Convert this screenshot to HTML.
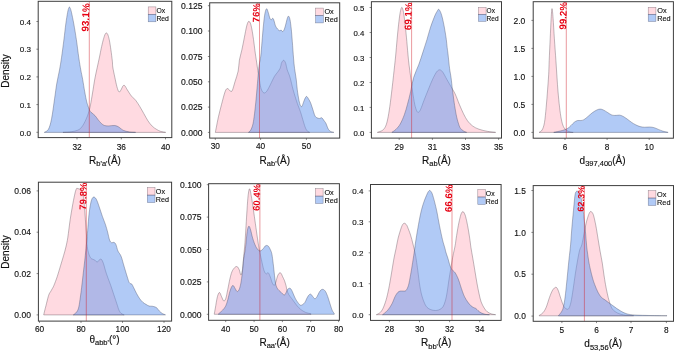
<!DOCTYPE html>
<html><head><meta charset="utf-8"><title>Density</title>
<style>html,body{margin:0;padding:0;background:#fff;}body{width:675px;height:352px;overflow:hidden;font-family:"Liberation Sans",sans-serif;}svg{display:block;will-change:transform;}</style></head>
<body>
<svg width="675" height="352" viewBox="0 0 675 352" font-family="'Liberation Sans', sans-serif">
<rect width="675" height="352" fill="#fff"/>
<g id="panel1">
<clipPath id="c0"><rect x="38.2" y="1.3" width="133.60" height="136.30"/></clipPath>
<g clip-path="url(#c0)">
<path d="M62.97,132.35 C64.35,132.25 68.85,132.08 71.27,131.73 C73.69,131.38 75.76,131.04 77.49,130.28 C79.22,129.52 80.26,128.89 81.64,127.17 C83.03,125.44 84.58,122.50 85.79,119.90 C87.00,117.31 88.04,114.54 88.90,111.61 C89.77,108.67 90.29,105.90 90.98,102.27 C91.67,98.64 92.36,93.97 93.05,89.82 C93.75,85.67 94.09,82.66 95.13,77.37 C96.17,72.09 98.28,62.86 99.28,58.09 C100.28,53.32 100.53,51.60 101.15,48.76 C101.76,45.91 102.42,43.06 102.95,41.00 C103.48,38.93 103.91,37.57 104.30,36.39 C104.69,35.21 104.95,34.50 105.29,33.92 C105.64,33.34 106.03,32.90 106.39,32.90 C106.76,32.90 107.14,33.34 107.47,33.92 C107.81,34.50 108.07,35.21 108.41,36.39 C108.75,37.57 109.09,38.76 109.51,41.00 C109.92,43.23 110.42,46.42 110.90,49.79 C111.37,53.16 112.04,58.34 112.35,61.20 C112.66,64.07 112.35,64.30 112.76,67.00 C113.18,69.70 114.15,74.09 114.84,77.37 C115.53,80.66 116.22,84.29 116.91,86.71 C117.60,89.13 118.30,91.38 118.99,91.90 C119.68,92.41 120.44,90.76 121.06,89.82 C121.68,88.89 122.20,87.06 122.72,86.29 C123.24,85.53 123.69,85.15 124.17,85.26 C124.66,85.36 125.11,86.16 125.63,86.92 C126.15,87.68 126.32,88.30 127.29,89.82 C128.25,91.34 130.05,94.32 131.44,96.05 C132.82,97.77 134.20,98.47 135.59,100.20 C136.97,101.92 138.35,104.17 139.73,106.42 C141.12,108.67 142.50,111.26 143.88,113.68 C145.27,116.10 146.65,118.87 148.03,120.94 C149.42,123.02 150.80,124.75 152.18,126.13 C153.57,127.51 154.95,128.38 156.33,129.24 C157.72,130.11 158.93,130.80 160.48,131.32 C162.04,131.83 164.80,132.18 165.67,132.35 L165.67,132.40 L62.97,132.40 Z" fill="rgba(255,192,203,0.58)" stroke="none"/>
<path d="M62.97,132.35 C64.35,132.25 68.85,132.08 71.27,131.73 C73.69,131.38 75.76,131.04 77.49,130.28 C79.22,129.52 80.26,128.89 81.64,127.17 C83.03,125.44 84.58,122.50 85.79,119.90 C87.00,117.31 88.04,114.54 88.90,111.61 C89.77,108.67 90.29,105.90 90.98,102.27 C91.67,98.64 92.36,93.97 93.05,89.82 C93.75,85.67 94.09,82.66 95.13,77.37 C96.17,72.09 98.28,62.86 99.28,58.09 C100.28,53.32 100.53,51.60 101.15,48.76 C101.76,45.91 102.42,43.06 102.95,41.00 C103.48,38.93 103.91,37.57 104.30,36.39 C104.69,35.21 104.95,34.50 105.29,33.92 C105.64,33.34 106.03,32.90 106.39,32.90 C106.76,32.90 107.14,33.34 107.47,33.92 C107.81,34.50 108.07,35.21 108.41,36.39 C108.75,37.57 109.09,38.76 109.51,41.00 C109.92,43.23 110.42,46.42 110.90,49.79 C111.37,53.16 112.04,58.34 112.35,61.20 C112.66,64.07 112.35,64.30 112.76,67.00 C113.18,69.70 114.15,74.09 114.84,77.37 C115.53,80.66 116.22,84.29 116.91,86.71 C117.60,89.13 118.30,91.38 118.99,91.90 C119.68,92.41 120.44,90.76 121.06,89.82 C121.68,88.89 122.20,87.06 122.72,86.29 C123.24,85.53 123.69,85.15 124.17,85.26 C124.66,85.36 125.11,86.16 125.63,86.92 C126.15,87.68 126.32,88.30 127.29,89.82 C128.25,91.34 130.05,94.32 131.44,96.05 C132.82,97.77 134.20,98.47 135.59,100.20 C136.97,101.92 138.35,104.17 139.73,106.42 C141.12,108.67 142.50,111.26 143.88,113.68 C145.27,116.10 146.65,118.87 148.03,120.94 C149.42,123.02 150.80,124.75 152.18,126.13 C153.57,127.51 154.95,128.38 156.33,129.24 C157.72,130.11 158.93,130.80 160.48,131.32 C162.04,131.83 164.80,132.18 165.67,132.35 L165.67,132.40 L62.97,132.40 Z" fill="none" stroke="rgba(85,70,82,0.62)" stroke-width="0.6" stroke-linejoin="round"/>
<path d="M44.30,132.35 C44.99,131.83 47.24,131.49 48.45,129.24 C49.66,126.99 50.52,124.05 51.56,118.87 C52.60,113.68 53.81,104.00 54.67,98.12 C55.54,92.24 55.94,88.28 56.75,83.60 C57.55,78.91 58.71,74.32 59.50,70.00 C60.29,65.68 60.77,62.73 61.50,57.70 C62.23,52.67 63.18,45.43 63.90,39.80 C64.62,34.17 65.18,28.45 65.80,23.90 C66.42,19.35 67.13,15.08 67.60,12.50 C68.07,9.92 68.30,9.32 68.60,8.40 C68.90,7.48 69.12,7.00 69.40,7.00 C69.68,7.00 69.95,7.48 70.30,8.40 C70.65,9.32 70.92,9.92 71.50,12.50 C72.08,15.08 72.98,19.35 73.80,23.90 C74.62,28.45 75.57,34.17 76.40,39.80 C77.23,45.43 78.07,52.67 78.80,57.70 C79.53,62.73 80.15,66.38 80.80,70.00 C81.45,73.62 82.02,75.80 82.68,79.45 C83.34,83.10 84.06,88.09 84.76,91.90 C85.45,95.70 86.14,99.50 86.83,102.27 C87.52,105.04 88.32,106.94 88.90,108.49 C89.49,110.05 89.84,110.85 90.36,111.61 C90.88,112.37 91.22,112.37 92.02,113.06 C92.81,113.75 94.09,114.61 95.13,115.76 C96.17,116.90 97.20,118.63 98.24,119.90 C99.28,121.18 100.32,122.50 101.35,123.43 C102.39,124.37 103.25,125.09 104.46,125.51 C105.67,125.92 106.89,125.92 108.61,125.92 C110.34,125.92 113.11,125.30 114.84,125.51 C116.57,125.71 117.60,126.37 118.99,127.17 C120.37,127.96 121.41,129.48 123.14,130.28 C124.87,131.07 127.29,131.59 129.36,131.94 C131.44,132.28 134.55,132.28 135.59,132.35 L135.59,132.40 L44.30,132.40 Z" fill="rgba(100,149,237,0.50)" stroke="none"/>
<path d="M44.30,132.35 C44.99,131.83 47.24,131.49 48.45,129.24 C49.66,126.99 50.52,124.05 51.56,118.87 C52.60,113.68 53.81,104.00 54.67,98.12 C55.54,92.24 55.94,88.28 56.75,83.60 C57.55,78.91 58.71,74.32 59.50,70.00 C60.29,65.68 60.77,62.73 61.50,57.70 C62.23,52.67 63.18,45.43 63.90,39.80 C64.62,34.17 65.18,28.45 65.80,23.90 C66.42,19.35 67.13,15.08 67.60,12.50 C68.07,9.92 68.30,9.32 68.60,8.40 C68.90,7.48 69.12,7.00 69.40,7.00 C69.68,7.00 69.95,7.48 70.30,8.40 C70.65,9.32 70.92,9.92 71.50,12.50 C72.08,15.08 72.98,19.35 73.80,23.90 C74.62,28.45 75.57,34.17 76.40,39.80 C77.23,45.43 78.07,52.67 78.80,57.70 C79.53,62.73 80.15,66.38 80.80,70.00 C81.45,73.62 82.02,75.80 82.68,79.45 C83.34,83.10 84.06,88.09 84.76,91.90 C85.45,95.70 86.14,99.50 86.83,102.27 C87.52,105.04 88.32,106.94 88.90,108.49 C89.49,110.05 89.84,110.85 90.36,111.61 C90.88,112.37 91.22,112.37 92.02,113.06 C92.81,113.75 94.09,114.61 95.13,115.76 C96.17,116.90 97.20,118.63 98.24,119.90 C99.28,121.18 100.32,122.50 101.35,123.43 C102.39,124.37 103.25,125.09 104.46,125.51 C105.67,125.92 106.89,125.92 108.61,125.92 C110.34,125.92 113.11,125.30 114.84,125.51 C116.57,125.71 117.60,126.37 118.99,127.17 C120.37,127.96 121.41,129.48 123.14,130.28 C124.87,131.07 127.29,131.59 129.36,131.94 C131.44,132.28 134.55,132.28 135.59,132.35 L135.59,132.40 L44.30,132.40 Z" fill="none" stroke="rgba(65,70,95,0.62)" stroke-width="0.6" stroke-linejoin="round"/>
<line x1="89.3" y1="1.3" x2="89.3" y2="137.6" stroke="#d0202a" stroke-width="0.9" opacity="0.5"/>
</g>
<text transform="translate(89.60,3.40) rotate(-88)" text-anchor="end" font-size="10.0" font-weight="bold" fill="#e60012">93.1%</text>
<rect x="38.2" y="1.3" width="133.60" height="136.30" fill="none" stroke="#3d3d3d" stroke-width="1"/>
<line x1="36.40" y1="132.3" x2="38.2" y2="132.3" stroke="#3d3d3d" stroke-width="0.6"/>
<text x="31.10" y="135.50" font-size="8.1" text-anchor="end" font-weight="normal" fill="#111" stroke="#111" stroke-width="0.13" >0.0</text>
<line x1="36.40" y1="104.6" x2="38.2" y2="104.6" stroke="#3d3d3d" stroke-width="0.6"/>
<text x="31.10" y="107.80" font-size="8.1" text-anchor="end" font-weight="normal" fill="#111" stroke="#111" stroke-width="0.13" >0.1</text>
<line x1="36.40" y1="76.9" x2="38.2" y2="76.9" stroke="#3d3d3d" stroke-width="0.6"/>
<text x="31.10" y="80.10" font-size="8.1" text-anchor="end" font-weight="normal" fill="#111" stroke="#111" stroke-width="0.13" >0.2</text>
<line x1="36.40" y1="49.2" x2="38.2" y2="49.2" stroke="#3d3d3d" stroke-width="0.6"/>
<text x="31.10" y="52.40" font-size="8.1" text-anchor="end" font-weight="normal" fill="#111" stroke="#111" stroke-width="0.13" >0.3</text>
<line x1="36.40" y1="21.5" x2="38.2" y2="21.5" stroke="#3d3d3d" stroke-width="0.6"/>
<text x="31.10" y="24.70" font-size="8.1" text-anchor="end" font-weight="normal" fill="#111" stroke="#111" stroke-width="0.13" >0.4</text>
<line x1="77.0" y1="137.6" x2="77.0" y2="139.40" stroke="#3d3d3d" stroke-width="0.6"/>
<text x="77.00" y="149.60" font-size="8.3" text-anchor="middle" font-weight="normal" fill="#111" stroke="#111" stroke-width="0.13" >32</text>
<line x1="121.3" y1="137.6" x2="121.3" y2="139.40" stroke="#3d3d3d" stroke-width="0.6"/>
<text x="121.30" y="149.60" font-size="8.3" text-anchor="middle" font-weight="normal" fill="#111" stroke="#111" stroke-width="0.13" >36</text>
<line x1="165.5" y1="137.6" x2="165.5" y2="139.40" stroke="#3d3d3d" stroke-width="0.6"/>
<text x="165.50" y="149.60" font-size="8.3" text-anchor="middle" font-weight="normal" fill="#111" stroke="#111" stroke-width="0.13" >40</text>
<text x="105" y="163.5" text-anchor="middle" font-size="10" fill="#111" stroke="#111" stroke-width="0.15">R<tspan font-size="7.5" dy="2.5">b'a'</tspan><tspan dy="-2.5">(Å)</tspan></text>
<rect x="148.2" y="6.9" width="7.7" height="7.45" fill="rgba(255,192,203,0.58)" stroke="rgba(85,70,82,0.62)" stroke-width="0.5"/>
<rect x="148.2" y="14.35" width="7.7" height="7.45" fill="rgba(100,149,237,0.50)" stroke="rgba(65,70,95,0.62)" stroke-width="0.5"/>
<text x="156.40" y="13.24" font-size="7.50" text-anchor="start" font-weight="normal" fill="#111" stroke="#111" stroke-width="0.13" textLength="8.71" lengthAdjust="spacingAndGlyphs">Ox</text>
<text x="156.40" y="21.04" font-size="7.50" text-anchor="start" font-weight="normal" fill="#111" stroke="#111" stroke-width="0.13" textLength="12.50" lengthAdjust="spacingAndGlyphs">Red</text>
</g>
<g id="panel2">
<clipPath id="c1"><rect x="209.7" y="2.8" width="130.00" height="135.30"/></clipPath>
<g clip-path="url(#c1)">
<path d="M215.34,132.35 C215.51,131.49 215.85,129.76 216.37,127.17 C216.89,124.57 217.58,120.60 218.45,116.79 C219.31,112.99 220.52,108.32 221.56,104.34 C222.60,100.37 223.81,95.53 224.67,92.93 C225.54,90.34 226.06,89.37 226.75,88.78 C227.44,88.20 228.13,88.96 228.82,89.41 C229.51,89.86 230.27,91.41 230.90,91.48 C231.52,91.55 231.86,91.48 232.56,89.82 C233.25,88.16 234.11,84.63 235.05,81.52 C235.98,78.41 237.43,74.71 238.16,71.15 C238.88,67.59 238.78,63.73 239.40,60.17 C240.02,56.61 241.06,53.60 241.89,49.79 C242.72,45.99 243.62,41.15 244.38,37.34 C245.14,33.54 245.89,29.43 246.46,26.97 C247.03,24.52 247.39,23.55 247.80,22.61 C248.22,21.68 248.51,21.27 248.95,21.37 C249.38,21.47 249.91,21.96 250.40,23.24 C250.88,24.52 251.33,26.35 251.85,29.05 C252.37,31.74 252.99,35.79 253.51,39.42 C254.03,43.05 254.44,47.03 254.96,50.83 C255.48,54.63 256.14,58.96 256.62,62.24 C257.11,65.53 257.49,68.36 257.87,70.54 C258.25,72.72 258.49,72.78 258.90,75.30 C259.32,77.82 259.84,83.08 260.36,85.67 C260.88,88.27 261.39,89.65 262.02,90.86 C262.64,92.07 263.40,92.76 264.09,92.93 C264.78,93.11 265.47,92.59 266.17,91.90 C266.86,91.20 267.38,90.34 268.24,88.78 C269.11,87.23 270.32,84.63 271.35,82.56 C272.39,80.49 273.43,78.07 274.46,76.34 C275.50,74.61 276.61,73.57 277.58,72.19 C278.54,70.80 279.65,69.49 280.27,68.04 C280.90,66.59 280.93,64.64 281.31,63.49 C281.69,62.33 282.18,61.64 282.56,61.10 C282.94,60.56 283.25,60.27 283.59,60.27 C283.94,60.27 284.25,60.49 284.63,61.10 C285.01,61.70 285.46,62.50 285.88,63.90 C286.29,65.30 286.43,67.26 287.12,69.50 C287.81,71.75 289.02,73.99 290.02,77.37 C291.03,80.76 291.93,85.50 293.14,89.82 C294.35,94.14 296.08,99.68 297.29,103.31 C298.50,106.94 299.36,108.49 300.40,111.61 C301.44,114.72 302.65,119.21 303.51,121.98 C304.37,124.75 304.89,126.65 305.59,128.20 C306.28,129.76 306.97,130.62 307.66,131.32 C308.35,132.01 309.39,132.18 309.73,132.35 L309.73,132.40 L215.34,132.40 Z" fill="rgba(255,192,203,0.58)" stroke="none"/>
<path d="M215.34,132.35 C215.51,131.49 215.85,129.76 216.37,127.17 C216.89,124.57 217.58,120.60 218.45,116.79 C219.31,112.99 220.52,108.32 221.56,104.34 C222.60,100.37 223.81,95.53 224.67,92.93 C225.54,90.34 226.06,89.37 226.75,88.78 C227.44,88.20 228.13,88.96 228.82,89.41 C229.51,89.86 230.27,91.41 230.90,91.48 C231.52,91.55 231.86,91.48 232.56,89.82 C233.25,88.16 234.11,84.63 235.05,81.52 C235.98,78.41 237.43,74.71 238.16,71.15 C238.88,67.59 238.78,63.73 239.40,60.17 C240.02,56.61 241.06,53.60 241.89,49.79 C242.72,45.99 243.62,41.15 244.38,37.34 C245.14,33.54 245.89,29.43 246.46,26.97 C247.03,24.52 247.39,23.55 247.80,22.61 C248.22,21.68 248.51,21.27 248.95,21.37 C249.38,21.47 249.91,21.96 250.40,23.24 C250.88,24.52 251.33,26.35 251.85,29.05 C252.37,31.74 252.99,35.79 253.51,39.42 C254.03,43.05 254.44,47.03 254.96,50.83 C255.48,54.63 256.14,58.96 256.62,62.24 C257.11,65.53 257.49,68.36 257.87,70.54 C258.25,72.72 258.49,72.78 258.90,75.30 C259.32,77.82 259.84,83.08 260.36,85.67 C260.88,88.27 261.39,89.65 262.02,90.86 C262.64,92.07 263.40,92.76 264.09,92.93 C264.78,93.11 265.47,92.59 266.17,91.90 C266.86,91.20 267.38,90.34 268.24,88.78 C269.11,87.23 270.32,84.63 271.35,82.56 C272.39,80.49 273.43,78.07 274.46,76.34 C275.50,74.61 276.61,73.57 277.58,72.19 C278.54,70.80 279.65,69.49 280.27,68.04 C280.90,66.59 280.93,64.64 281.31,63.49 C281.69,62.33 282.18,61.64 282.56,61.10 C282.94,60.56 283.25,60.27 283.59,60.27 C283.94,60.27 284.25,60.49 284.63,61.10 C285.01,61.70 285.46,62.50 285.88,63.90 C286.29,65.30 286.43,67.26 287.12,69.50 C287.81,71.75 289.02,73.99 290.02,77.37 C291.03,80.76 291.93,85.50 293.14,89.82 C294.35,94.14 296.08,99.68 297.29,103.31 C298.50,106.94 299.36,108.49 300.40,111.61 C301.44,114.72 302.65,119.21 303.51,121.98 C304.37,124.75 304.89,126.65 305.59,128.20 C306.28,129.76 306.97,130.62 307.66,131.32 C308.35,132.01 309.39,132.18 309.73,132.35 L309.73,132.40 L215.34,132.40 Z" fill="none" stroke="rgba(85,70,82,0.62)" stroke-width="0.6" stroke-linejoin="round"/>
<path d="M248.53,132.35 C248.88,132.01 249.91,131.49 250.61,130.28 C251.30,129.07 252.09,127.34 252.68,125.09 C253.27,122.84 253.61,120.60 254.13,116.79 C254.65,112.99 255.24,107.80 255.79,102.27 C256.35,96.74 256.93,89.48 257.45,83.60 C257.97,77.72 258.35,71.60 258.90,67.00 C259.46,62.40 260.25,60.27 260.77,56.02 C261.29,51.77 261.57,46.68 262.02,41.49 C262.47,36.31 262.98,29.56 263.47,24.90 C263.95,20.23 264.40,16.18 264.92,13.49 C265.44,10.79 266.03,8.89 266.58,8.71 C267.13,8.54 267.69,10.86 268.24,12.45 C268.79,14.04 269.38,17.05 269.90,18.26 C270.42,19.47 270.87,19.71 271.35,19.71 C271.84,19.71 272.36,18.08 272.80,18.26 C273.25,18.43 273.60,19.47 274.05,20.75 C274.50,22.03 274.91,24.55 275.50,25.93 C276.09,27.32 276.89,28.25 277.58,29.05 C278.27,29.84 279.06,30.53 279.65,30.71 C280.24,30.88 280.59,29.94 281.10,30.08 C281.62,30.22 282.21,31.71 282.76,31.54 C283.32,31.36 283.90,30.33 284.42,29.05 C284.94,27.77 285.39,25.66 285.88,23.86 C286.36,22.06 286.88,19.54 287.33,18.26 C287.78,16.98 288.12,15.94 288.57,16.18 C289.02,16.42 289.58,17.57 290.02,19.71 C290.47,21.85 290.89,25.41 291.27,29.05 C291.65,32.68 291.93,36.65 292.31,41.49 C292.69,46.33 293.17,53.60 293.55,58.09 C293.93,62.59 294.14,64.91 294.59,68.46 C295.04,72.02 295.80,75.89 296.25,79.45 C296.70,83.01 296.84,86.36 297.29,89.82 C297.74,93.28 298.43,97.60 298.95,100.20 C299.46,102.79 299.91,104.34 300.40,105.38 C300.88,106.42 301.33,106.94 301.85,106.42 C302.37,105.90 302.96,103.65 303.51,102.27 C304.06,100.89 304.65,99.09 305.17,98.12 C305.69,97.15 306.03,96.29 306.62,96.46 C307.21,96.63 308.01,98.02 308.70,99.16 C309.39,100.30 310.08,101.58 310.77,103.31 C311.46,105.04 312.15,107.46 312.85,109.53 C313.54,111.61 314.23,114.37 314.92,115.76 C315.61,117.14 316.20,117.38 317.00,117.83 C317.79,118.28 318.90,118.45 319.69,118.45 C320.49,118.45 321.01,117.41 321.77,117.83 C322.53,118.24 323.57,120.03 324.26,120.94 C324.95,121.85 325.43,122.41 325.90,123.30 C326.37,124.19 326.68,125.30 327.10,126.30 C327.52,127.30 327.83,128.45 328.40,129.30 C328.97,130.15 329.58,130.88 330.50,131.40 C331.42,131.92 333.33,132.23 333.90,132.40 L333.90,132.40 L248.53,132.40 Z" fill="rgba(100,149,237,0.50)" stroke="none"/>
<path d="M248.53,132.35 C248.88,132.01 249.91,131.49 250.61,130.28 C251.30,129.07 252.09,127.34 252.68,125.09 C253.27,122.84 253.61,120.60 254.13,116.79 C254.65,112.99 255.24,107.80 255.79,102.27 C256.35,96.74 256.93,89.48 257.45,83.60 C257.97,77.72 258.35,71.60 258.90,67.00 C259.46,62.40 260.25,60.27 260.77,56.02 C261.29,51.77 261.57,46.68 262.02,41.49 C262.47,36.31 262.98,29.56 263.47,24.90 C263.95,20.23 264.40,16.18 264.92,13.49 C265.44,10.79 266.03,8.89 266.58,8.71 C267.13,8.54 267.69,10.86 268.24,12.45 C268.79,14.04 269.38,17.05 269.90,18.26 C270.42,19.47 270.87,19.71 271.35,19.71 C271.84,19.71 272.36,18.08 272.80,18.26 C273.25,18.43 273.60,19.47 274.05,20.75 C274.50,22.03 274.91,24.55 275.50,25.93 C276.09,27.32 276.89,28.25 277.58,29.05 C278.27,29.84 279.06,30.53 279.65,30.71 C280.24,30.88 280.59,29.94 281.10,30.08 C281.62,30.22 282.21,31.71 282.76,31.54 C283.32,31.36 283.90,30.33 284.42,29.05 C284.94,27.77 285.39,25.66 285.88,23.86 C286.36,22.06 286.88,19.54 287.33,18.26 C287.78,16.98 288.12,15.94 288.57,16.18 C289.02,16.42 289.58,17.57 290.02,19.71 C290.47,21.85 290.89,25.41 291.27,29.05 C291.65,32.68 291.93,36.65 292.31,41.49 C292.69,46.33 293.17,53.60 293.55,58.09 C293.93,62.59 294.14,64.91 294.59,68.46 C295.04,72.02 295.80,75.89 296.25,79.45 C296.70,83.01 296.84,86.36 297.29,89.82 C297.74,93.28 298.43,97.60 298.95,100.20 C299.46,102.79 299.91,104.34 300.40,105.38 C300.88,106.42 301.33,106.94 301.85,106.42 C302.37,105.90 302.96,103.65 303.51,102.27 C304.06,100.89 304.65,99.09 305.17,98.12 C305.69,97.15 306.03,96.29 306.62,96.46 C307.21,96.63 308.01,98.02 308.70,99.16 C309.39,100.30 310.08,101.58 310.77,103.31 C311.46,105.04 312.15,107.46 312.85,109.53 C313.54,111.61 314.23,114.37 314.92,115.76 C315.61,117.14 316.20,117.38 317.00,117.83 C317.79,118.28 318.90,118.45 319.69,118.45 C320.49,118.45 321.01,117.41 321.77,117.83 C322.53,118.24 323.57,120.03 324.26,120.94 C324.95,121.85 325.43,122.41 325.90,123.30 C326.37,124.19 326.68,125.30 327.10,126.30 C327.52,127.30 327.83,128.45 328.40,129.30 C328.97,130.15 329.58,130.88 330.50,131.40 C331.42,131.92 333.33,132.23 333.90,132.40 L333.90,132.40 L248.53,132.40 Z" fill="none" stroke="rgba(65,70,95,0.62)" stroke-width="0.6" stroke-linejoin="round"/>
<line x1="259.5" y1="2.8" x2="259.5" y2="138.1" stroke="#d0202a" stroke-width="0.9" opacity="0.5"/>
</g>
<text transform="translate(259.80,3.40) rotate(-88)" text-anchor="end" font-size="9.5" font-weight="bold" fill="#e60012">76%</text>
<rect x="209.7" y="2.8" width="130.00" height="135.30" fill="none" stroke="#3d3d3d" stroke-width="1"/>
<line x1="207.90" y1="132.4" x2="209.7" y2="132.4" stroke="#3d3d3d" stroke-width="0.6"/>
<text x="202.60" y="135.60" font-size="8.6" text-anchor="end" font-weight="normal" fill="#111" stroke="#111" stroke-width="0.13" >0.000</text>
<line x1="207.90" y1="107.1" x2="209.7" y2="107.1" stroke="#3d3d3d" stroke-width="0.6"/>
<text x="202.60" y="110.30" font-size="8.6" text-anchor="end" font-weight="normal" fill="#111" stroke="#111" stroke-width="0.13" >0.025</text>
<line x1="207.90" y1="81.8" x2="209.7" y2="81.8" stroke="#3d3d3d" stroke-width="0.6"/>
<text x="202.60" y="85.00" font-size="8.6" text-anchor="end" font-weight="normal" fill="#111" stroke="#111" stroke-width="0.13" >0.050</text>
<line x1="207.90" y1="56.5" x2="209.7" y2="56.5" stroke="#3d3d3d" stroke-width="0.6"/>
<text x="202.60" y="59.70" font-size="8.6" text-anchor="end" font-weight="normal" fill="#111" stroke="#111" stroke-width="0.13" >0.075</text>
<line x1="207.90" y1="31.0" x2="209.7" y2="31.0" stroke="#3d3d3d" stroke-width="0.6"/>
<text x="202.60" y="34.20" font-size="8.6" text-anchor="end" font-weight="normal" fill="#111" stroke="#111" stroke-width="0.13" >0.100</text>
<line x1="207.90" y1="5.7" x2="209.7" y2="5.7" stroke="#3d3d3d" stroke-width="0.6"/>
<text x="202.60" y="8.90" font-size="8.6" text-anchor="end" font-weight="normal" fill="#111" stroke="#111" stroke-width="0.13" >0.125</text>
<line x1="215.3" y1="138.1" x2="215.3" y2="139.90" stroke="#3d3d3d" stroke-width="0.6"/>
<text x="215.30" y="149.30" font-size="8.3" text-anchor="middle" font-weight="normal" fill="#111" stroke="#111" stroke-width="0.13" >30</text>
<line x1="260.6" y1="138.1" x2="260.6" y2="139.90" stroke="#3d3d3d" stroke-width="0.6"/>
<text x="260.60" y="149.30" font-size="8.3" text-anchor="middle" font-weight="normal" fill="#111" stroke="#111" stroke-width="0.13" >40</text>
<line x1="306.4" y1="138.1" x2="306.4" y2="139.90" stroke="#3d3d3d" stroke-width="0.6"/>
<text x="306.40" y="149.30" font-size="8.3" text-anchor="middle" font-weight="normal" fill="#111" stroke="#111" stroke-width="0.13" >50</text>
<text x="274.8" y="163.5" text-anchor="middle" font-size="10" fill="#111" stroke="#111" stroke-width="0.15">R<tspan font-size="7.5" dy="2.5">ab'</tspan><tspan dy="-2.5">(Å)</tspan></text>
<rect x="315.6" y="8.1" width="7.7" height="7.4" fill="rgba(255,192,203,0.58)" stroke="rgba(85,70,82,0.62)" stroke-width="0.5"/>
<rect x="315.6" y="15.50" width="7.7" height="7.4" fill="rgba(100,149,237,0.50)" stroke="rgba(65,70,95,0.62)" stroke-width="0.5"/>
<text x="324.40" y="14.40" font-size="8.04" text-anchor="start" font-weight="normal" fill="#111" stroke="#111" stroke-width="0.13" textLength="9.34" lengthAdjust="spacingAndGlyphs">Ox</text>
<text x="324.40" y="22.15" font-size="8.04" text-anchor="start" font-weight="normal" fill="#111" stroke="#111" stroke-width="0.13" textLength="13.40" lengthAdjust="spacingAndGlyphs">Red</text>
</g>
<g id="panel3">
<clipPath id="c2"><rect x="371.4" y="1.7" width="130.10" height="136.40"/></clipPath>
<g clip-path="url(#c2)">
<path d="M377.37,132.35 C378.24,132.01 381.18,131.32 382.56,130.28 C383.94,129.24 384.81,128.03 385.67,126.13 C386.54,124.23 387.06,122.15 387.75,118.87 C388.44,115.58 389.13,111.26 389.82,106.42 C390.51,101.58 391.27,95.01 391.90,89.82 C392.52,84.63 392.93,80.93 393.56,75.30 C394.18,69.66 395.04,62.00 395.63,56.02 C396.22,50.04 396.60,44.61 397.08,39.42 C397.57,34.23 398.02,29.39 398.54,24.90 C399.05,20.40 399.64,15.39 400.20,12.45 C400.75,9.51 401.30,7.26 401.85,7.26 C402.41,7.26 402.96,9.51 403.51,12.45 C404.07,15.39 404.62,20.06 405.17,24.90 C405.73,29.74 406.28,35.62 406.83,41.49 C407.39,47.37 407.80,53.84 408.49,60.17 C409.19,66.49 410.29,74.16 410.98,79.45 C411.67,84.74 412.02,87.75 412.64,91.90 C413.27,96.05 414.03,101.16 414.72,104.34 C415.41,107.53 416.17,109.67 416.79,110.98 C417.41,112.30 417.83,112.47 418.45,112.23 C419.07,111.99 419.59,111.54 420.53,109.53 C421.46,107.53 422.77,103.48 424.05,100.20 C425.33,96.91 426.82,93.21 428.20,89.82 C429.59,86.43 431.07,82.66 432.35,79.86 C433.63,77.06 434.95,74.57 435.88,73.02 C436.81,71.46 437.33,71.06 437.95,70.53 C438.58,69.99 439.06,69.80 439.61,69.80 C440.17,69.80 440.65,69.99 441.27,70.53 C441.90,71.06 442.41,71.53 443.35,73.02 C444.28,74.50 445.60,77.17 446.88,79.45 C448.15,81.73 449.64,84.29 451.02,86.71 C452.41,89.13 453.79,91.03 455.17,93.97 C456.56,96.91 457.94,101.06 459.32,104.34 C460.71,107.63 462.09,110.91 463.47,113.68 C464.86,116.45 466.07,118.87 467.62,120.94 C469.18,123.02 470.91,124.75 472.81,126.13 C474.71,127.51 476.61,128.38 479.03,129.24 C481.45,130.11 484.57,130.80 487.33,131.32 C490.10,131.83 494.25,132.18 495.63,132.35 L495.63,132.40 L377.37,132.40 Z" fill="rgba(255,192,203,0.58)" stroke="none"/>
<path d="M377.37,132.35 C378.24,132.01 381.18,131.32 382.56,130.28 C383.94,129.24 384.81,128.03 385.67,126.13 C386.54,124.23 387.06,122.15 387.75,118.87 C388.44,115.58 389.13,111.26 389.82,106.42 C390.51,101.58 391.27,95.01 391.90,89.82 C392.52,84.63 392.93,80.93 393.56,75.30 C394.18,69.66 395.04,62.00 395.63,56.02 C396.22,50.04 396.60,44.61 397.08,39.42 C397.57,34.23 398.02,29.39 398.54,24.90 C399.05,20.40 399.64,15.39 400.20,12.45 C400.75,9.51 401.30,7.26 401.85,7.26 C402.41,7.26 402.96,9.51 403.51,12.45 C404.07,15.39 404.62,20.06 405.17,24.90 C405.73,29.74 406.28,35.62 406.83,41.49 C407.39,47.37 407.80,53.84 408.49,60.17 C409.19,66.49 410.29,74.16 410.98,79.45 C411.67,84.74 412.02,87.75 412.64,91.90 C413.27,96.05 414.03,101.16 414.72,104.34 C415.41,107.53 416.17,109.67 416.79,110.98 C417.41,112.30 417.83,112.47 418.45,112.23 C419.07,111.99 419.59,111.54 420.53,109.53 C421.46,107.53 422.77,103.48 424.05,100.20 C425.33,96.91 426.82,93.21 428.20,89.82 C429.59,86.43 431.07,82.66 432.35,79.86 C433.63,77.06 434.95,74.57 435.88,73.02 C436.81,71.46 437.33,71.06 437.95,70.53 C438.58,69.99 439.06,69.80 439.61,69.80 C440.17,69.80 440.65,69.99 441.27,70.53 C441.90,71.06 442.41,71.53 443.35,73.02 C444.28,74.50 445.60,77.17 446.88,79.45 C448.15,81.73 449.64,84.29 451.02,86.71 C452.41,89.13 453.79,91.03 455.17,93.97 C456.56,96.91 457.94,101.06 459.32,104.34 C460.71,107.63 462.09,110.91 463.47,113.68 C464.86,116.45 466.07,118.87 467.62,120.94 C469.18,123.02 470.91,124.75 472.81,126.13 C474.71,127.51 476.61,128.38 479.03,129.24 C481.45,130.11 484.57,130.80 487.33,131.32 C490.10,131.83 494.25,132.18 495.63,132.35 L495.63,132.40 L377.37,132.40 Z" fill="none" stroke="rgba(85,70,82,0.62)" stroke-width="0.6" stroke-linejoin="round"/>
<path d="M391.90,132.35 C392.59,131.83 394.66,130.62 396.05,129.24 C397.43,127.86 398.81,126.47 400.20,124.05 C401.58,121.63 403.13,118.00 404.34,114.72 C405.55,111.43 406.42,108.15 407.46,104.34 C408.49,100.54 409.53,96.39 410.57,91.90 C411.61,87.40 412.30,81.97 413.68,77.37 C415.06,72.78 417.31,68.57 418.87,64.32 C420.42,60.06 421.66,56.02 423.02,51.87 C424.37,47.71 425.74,43.54 427.00,39.40 C428.26,35.26 429.28,30.97 430.60,27.00 C431.92,23.03 433.80,18.23 434.90,15.60 C436.00,12.97 436.58,12.25 437.20,11.20 C437.82,10.15 438.13,9.33 438.60,9.30 C439.07,9.27 439.57,10.25 440.00,11.00 C440.43,11.75 440.80,12.63 441.20,13.80 C441.60,14.97 442.05,16.62 442.40,18.00 C442.75,19.38 442.98,20.60 443.30,22.10 C443.62,23.60 443.93,25.00 444.30,27.00 C444.67,29.00 445.17,32.03 445.50,34.10 C445.83,36.17 446.02,37.13 446.30,39.40 C446.58,41.67 446.92,45.28 447.20,47.70 C447.48,50.12 447.60,50.43 448.00,53.90 C448.40,57.37 449.10,64.59 449.60,68.50 C450.10,72.41 450.55,73.82 451.02,77.37 C451.50,80.93 451.96,85.67 452.48,89.82 C453.00,93.97 453.51,98.12 454.14,102.27 C454.76,106.42 455.52,111.26 456.21,114.72 C456.90,118.18 457.59,120.77 458.29,123.02 C458.98,125.26 459.50,126.89 460.36,128.20 C461.23,129.52 462.44,130.21 463.47,130.90 C464.51,131.59 466.07,132.11 466.59,132.35 L466.59,132.40 L391.90,132.40 Z" fill="rgba(100,149,237,0.50)" stroke="none"/>
<path d="M391.90,132.35 C392.59,131.83 394.66,130.62 396.05,129.24 C397.43,127.86 398.81,126.47 400.20,124.05 C401.58,121.63 403.13,118.00 404.34,114.72 C405.55,111.43 406.42,108.15 407.46,104.34 C408.49,100.54 409.53,96.39 410.57,91.90 C411.61,87.40 412.30,81.97 413.68,77.37 C415.06,72.78 417.31,68.57 418.87,64.32 C420.42,60.06 421.66,56.02 423.02,51.87 C424.37,47.71 425.74,43.54 427.00,39.40 C428.26,35.26 429.28,30.97 430.60,27.00 C431.92,23.03 433.80,18.23 434.90,15.60 C436.00,12.97 436.58,12.25 437.20,11.20 C437.82,10.15 438.13,9.33 438.60,9.30 C439.07,9.27 439.57,10.25 440.00,11.00 C440.43,11.75 440.80,12.63 441.20,13.80 C441.60,14.97 442.05,16.62 442.40,18.00 C442.75,19.38 442.98,20.60 443.30,22.10 C443.62,23.60 443.93,25.00 444.30,27.00 C444.67,29.00 445.17,32.03 445.50,34.10 C445.83,36.17 446.02,37.13 446.30,39.40 C446.58,41.67 446.92,45.28 447.20,47.70 C447.48,50.12 447.60,50.43 448.00,53.90 C448.40,57.37 449.10,64.59 449.60,68.50 C450.10,72.41 450.55,73.82 451.02,77.37 C451.50,80.93 451.96,85.67 452.48,89.82 C453.00,93.97 453.51,98.12 454.14,102.27 C454.76,106.42 455.52,111.26 456.21,114.72 C456.90,118.18 457.59,120.77 458.29,123.02 C458.98,125.26 459.50,126.89 460.36,128.20 C461.23,129.52 462.44,130.21 463.47,130.90 C464.51,131.59 466.07,132.11 466.59,132.35 L466.59,132.40 L391.90,132.40 Z" fill="none" stroke="rgba(65,70,95,0.62)" stroke-width="0.6" stroke-linejoin="round"/>
<line x1="411.6" y1="1.7" x2="411.6" y2="138.1" stroke="#d0202a" stroke-width="0.9" opacity="0.5"/>
</g>
<text transform="translate(412.10,2.70) rotate(-88)" text-anchor="end" font-size="9.7" font-weight="bold" fill="#e60012">69.1%</text>
<rect x="371.4" y="1.7" width="130.10" height="136.40" fill="none" stroke="#3d3d3d" stroke-width="1"/>
<line x1="369.60" y1="132.4" x2="371.4" y2="132.4" stroke="#3d3d3d" stroke-width="0.6"/>
<text x="364.30" y="135.60" font-size="7.8" text-anchor="end" font-weight="normal" fill="#111" stroke="#111" stroke-width="0.13" >0.0</text>
<line x1="369.60" y1="107.4" x2="371.4" y2="107.4" stroke="#3d3d3d" stroke-width="0.6"/>
<text x="364.30" y="110.60" font-size="7.8" text-anchor="end" font-weight="normal" fill="#111" stroke="#111" stroke-width="0.13" >0.1</text>
<line x1="369.60" y1="82.5" x2="371.4" y2="82.5" stroke="#3d3d3d" stroke-width="0.6"/>
<text x="364.30" y="85.70" font-size="7.8" text-anchor="end" font-weight="normal" fill="#111" stroke="#111" stroke-width="0.13" >0.2</text>
<line x1="369.60" y1="57.5" x2="371.4" y2="57.5" stroke="#3d3d3d" stroke-width="0.6"/>
<text x="364.30" y="60.70" font-size="7.8" text-anchor="end" font-weight="normal" fill="#111" stroke="#111" stroke-width="0.13" >0.3</text>
<line x1="369.60" y1="32.5" x2="371.4" y2="32.5" stroke="#3d3d3d" stroke-width="0.6"/>
<text x="364.30" y="35.70" font-size="7.8" text-anchor="end" font-weight="normal" fill="#111" stroke="#111" stroke-width="0.13" >0.4</text>
<line x1="369.60" y1="7.5" x2="371.4" y2="7.5" stroke="#3d3d3d" stroke-width="0.6"/>
<text x="364.30" y="10.70" font-size="7.8" text-anchor="end" font-weight="normal" fill="#111" stroke="#111" stroke-width="0.13" >0.5</text>
<line x1="399.2" y1="138.1" x2="399.2" y2="139.90" stroke="#3d3d3d" stroke-width="0.6"/>
<text x="399.20" y="149.60" font-size="8.3" text-anchor="middle" font-weight="normal" fill="#111" stroke="#111" stroke-width="0.13" >29</text>
<line x1="432.4" y1="138.1" x2="432.4" y2="139.90" stroke="#3d3d3d" stroke-width="0.6"/>
<text x="432.40" y="149.60" font-size="8.3" text-anchor="middle" font-weight="normal" fill="#111" stroke="#111" stroke-width="0.13" >31</text>
<line x1="465.5" y1="138.1" x2="465.5" y2="139.90" stroke="#3d3d3d" stroke-width="0.6"/>
<text x="465.50" y="149.60" font-size="8.3" text-anchor="middle" font-weight="normal" fill="#111" stroke="#111" stroke-width="0.13" >33</text>
<line x1="498.6" y1="138.1" x2="498.6" y2="139.90" stroke="#3d3d3d" stroke-width="0.6"/>
<text x="498.60" y="149.60" font-size="8.3" text-anchor="middle" font-weight="normal" fill="#111" stroke="#111" stroke-width="0.13" >35</text>
<text x="436.5" y="163.5" text-anchor="middle" font-size="10" fill="#111" stroke="#111" stroke-width="0.15">R<tspan font-size="7.5" dy="2.5">ab</tspan><tspan dy="-2.5">(Å)</tspan></text>
<rect x="478.4" y="7.5" width="7.7" height="6.95" fill="rgba(255,192,203,0.58)" stroke="rgba(85,70,82,0.62)" stroke-width="0.5"/>
<rect x="478.4" y="14.45" width="7.7" height="6.95" fill="rgba(100,149,237,0.50)" stroke="rgba(65,70,95,0.62)" stroke-width="0.5"/>
<text x="486.60" y="13.42" font-size="7.20" text-anchor="start" font-weight="normal" fill="#111" stroke="#111" stroke-width="0.13" textLength="8.36" lengthAdjust="spacingAndGlyphs">Ox</text>
<text x="486.60" y="20.70" font-size="7.20" text-anchor="start" font-weight="normal" fill="#111" stroke="#111" stroke-width="0.13" textLength="12.00" lengthAdjust="spacingAndGlyphs">Red</text>
</g>
<g id="panel4">
<clipPath id="c3"><rect x="533.2" y="1.7" width="140.20" height="136.50"/></clipPath>
<g clip-path="url(#c3)">
<path d="M539.06,132.41 C539.57,132.01 541.19,131.65 542.08,130.03 C542.98,128.42 543.77,126.51 544.46,122.70 C545.14,118.88 545.66,112.63 546.18,107.16 C546.71,101.69 547.17,95.29 547.59,89.90 C548.00,84.50 548.40,79.70 548.67,74.79 C548.94,69.88 548.95,66.41 549.21,60.42 C549.46,54.43 549.85,45.86 550.18,38.84 C550.50,31.83 550.84,23.38 551.15,18.34 C551.45,13.31 551.69,8.63 552.01,8.63 C552.33,8.63 552.69,13.31 553.09,18.34 C553.49,23.38 553.92,31.83 554.38,38.84 C554.85,45.86 555.46,54.07 555.90,60.42 C556.33,66.77 556.61,71.68 556.97,76.95 C557.33,82.22 557.62,87.02 558.05,92.05 C558.49,97.09 559.02,102.66 559.56,107.16 C560.10,111.66 560.64,115.79 561.29,119.03 C561.94,122.26 562.55,124.67 563.45,126.58 C564.35,128.49 565.43,129.53 566.69,130.47 C567.94,131.40 569.92,131.87 571.00,132.19 C572.08,132.52 572.80,132.37 573.16,132.41 L573.16,132.40 L539.06,132.40 Z" fill="rgba(255,192,203,0.58)" stroke="none"/>
<path d="M539.06,132.41 C539.57,132.01 541.19,131.65 542.08,130.03 C542.98,128.42 543.77,126.51 544.46,122.70 C545.14,118.88 545.66,112.63 546.18,107.16 C546.71,101.69 547.17,95.29 547.59,89.90 C548.00,84.50 548.40,79.70 548.67,74.79 C548.94,69.88 548.95,66.41 549.21,60.42 C549.46,54.43 549.85,45.86 550.18,38.84 C550.50,31.83 550.84,23.38 551.15,18.34 C551.45,13.31 551.69,8.63 552.01,8.63 C552.33,8.63 552.69,13.31 553.09,18.34 C553.49,23.38 553.92,31.83 554.38,38.84 C554.85,45.86 555.46,54.07 555.90,60.42 C556.33,66.77 556.61,71.68 556.97,76.95 C557.33,82.22 557.62,87.02 558.05,92.05 C558.49,97.09 559.02,102.66 559.56,107.16 C560.10,111.66 560.64,115.79 561.29,119.03 C561.94,122.26 562.55,124.67 563.45,126.58 C564.35,128.49 565.43,129.53 566.69,130.47 C567.94,131.40 569.92,131.87 571.00,132.19 C572.08,132.52 572.80,132.37 573.16,132.41 L573.16,132.40 L539.06,132.40 Z" fill="none" stroke="rgba(85,70,82,0.62)" stroke-width="0.6" stroke-linejoin="round"/>
<path d="M553.74,132.41 C555.18,132.08 560.03,131.15 562.37,130.47 C564.71,129.78 566.33,129.13 567.76,128.31 C569.20,127.48 569.92,126.51 571.00,125.50 C572.08,124.49 573.16,123.09 574.24,122.26 C575.32,121.44 576.40,120.83 577.48,120.54 C578.55,120.25 579.63,120.68 580.71,120.54 C581.79,120.39 582.69,120.39 583.95,119.68 C585.21,118.96 586.83,117.41 588.26,116.22 C589.70,115.04 591.14,113.60 592.58,112.55 C594.02,111.51 595.64,110.54 596.90,109.96 C598.16,109.39 599.05,109.10 600.13,109.10 C601.21,109.10 602.11,109.39 603.37,109.96 C604.63,110.54 606.25,111.69 607.69,112.55 C609.13,113.42 610.56,114.68 612.00,115.14 C613.44,115.61 615.06,115.36 616.32,115.36 C617.58,115.36 618.48,115.00 619.56,115.14 C620.63,115.29 621.53,115.58 622.79,116.22 C624.05,116.87 625.67,118.02 627.11,119.03 C628.55,120.04 629.99,121.29 631.42,122.26 C632.86,123.24 634.30,124.14 635.74,124.85 C637.18,125.57 638.62,126.19 640.06,126.58 C641.49,126.98 642.75,127.16 644.37,127.23 C645.99,127.30 648.15,126.94 649.77,127.01 C651.39,127.08 652.64,127.26 654.08,127.66 C655.52,128.06 656.96,128.81 658.40,129.39 C659.84,129.96 661.10,130.61 662.71,131.11 C664.33,131.62 667.21,132.19 668.11,132.41 L668.11,132.40 L553.74,132.40 Z" fill="rgba(100,149,237,0.50)" stroke="none"/>
<path d="M553.74,132.41 C555.18,132.08 560.03,131.15 562.37,130.47 C564.71,129.78 566.33,129.13 567.76,128.31 C569.20,127.48 569.92,126.51 571.00,125.50 C572.08,124.49 573.16,123.09 574.24,122.26 C575.32,121.44 576.40,120.83 577.48,120.54 C578.55,120.25 579.63,120.68 580.71,120.54 C581.79,120.39 582.69,120.39 583.95,119.68 C585.21,118.96 586.83,117.41 588.26,116.22 C589.70,115.04 591.14,113.60 592.58,112.55 C594.02,111.51 595.64,110.54 596.90,109.96 C598.16,109.39 599.05,109.10 600.13,109.10 C601.21,109.10 602.11,109.39 603.37,109.96 C604.63,110.54 606.25,111.69 607.69,112.55 C609.13,113.42 610.56,114.68 612.00,115.14 C613.44,115.61 615.06,115.36 616.32,115.36 C617.58,115.36 618.48,115.00 619.56,115.14 C620.63,115.29 621.53,115.58 622.79,116.22 C624.05,116.87 625.67,118.02 627.11,119.03 C628.55,120.04 629.99,121.29 631.42,122.26 C632.86,123.24 634.30,124.14 635.74,124.85 C637.18,125.57 638.62,126.19 640.06,126.58 C641.49,126.98 642.75,127.16 644.37,127.23 C645.99,127.30 648.15,126.94 649.77,127.01 C651.39,127.08 652.64,127.26 654.08,127.66 C655.52,128.06 656.96,128.81 658.40,129.39 C659.84,129.96 661.10,130.61 662.71,131.11 C664.33,131.62 667.21,132.19 668.11,132.41 L668.11,132.40 L553.74,132.40 Z" fill="none" stroke="rgba(65,70,95,0.62)" stroke-width="0.6" stroke-linejoin="round"/>
<line x1="566.3" y1="1.7" x2="566.3" y2="138.2" stroke="#d0202a" stroke-width="0.9" opacity="0.5"/>
</g>
<text transform="translate(566.90,2.20) rotate(-88)" text-anchor="end" font-size="9.7" font-weight="bold" fill="#e60012">99.2%</text>
<rect x="533.2" y="1.7" width="140.20" height="136.50" fill="none" stroke="#3d3d3d" stroke-width="1"/>
<line x1="531.40" y1="132.4" x2="533.2" y2="132.4" stroke="#3d3d3d" stroke-width="0.6"/>
<text x="525.30" y="135.60" font-size="8.5" text-anchor="end" font-weight="normal" fill="#111" stroke="#111" stroke-width="0.13" >0.0</text>
<line x1="531.40" y1="104.4" x2="533.2" y2="104.4" stroke="#3d3d3d" stroke-width="0.6"/>
<text x="525.30" y="107.60" font-size="8.5" text-anchor="end" font-weight="normal" fill="#111" stroke="#111" stroke-width="0.13" >0.5</text>
<line x1="531.40" y1="76.4" x2="533.2" y2="76.4" stroke="#3d3d3d" stroke-width="0.6"/>
<text x="525.30" y="79.60" font-size="8.5" text-anchor="end" font-weight="normal" fill="#111" stroke="#111" stroke-width="0.13" >1.0</text>
<line x1="531.40" y1="48.4" x2="533.2" y2="48.4" stroke="#3d3d3d" stroke-width="0.6"/>
<text x="525.30" y="51.60" font-size="8.5" text-anchor="end" font-weight="normal" fill="#111" stroke="#111" stroke-width="0.13" >1.5</text>
<line x1="531.40" y1="20.4" x2="533.2" y2="20.4" stroke="#3d3d3d" stroke-width="0.6"/>
<text x="525.30" y="23.60" font-size="8.5" text-anchor="end" font-weight="normal" fill="#111" stroke="#111" stroke-width="0.13" >2.0</text>
<line x1="565.0" y1="138.2" x2="565.0" y2="140.00" stroke="#3d3d3d" stroke-width="0.6"/>
<text x="565.00" y="149.60" font-size="8.3" text-anchor="middle" font-weight="normal" fill="#111" stroke="#111" stroke-width="0.13" >6</text>
<line x1="607.1" y1="138.2" x2="607.1" y2="140.00" stroke="#3d3d3d" stroke-width="0.6"/>
<text x="607.10" y="149.60" font-size="8.3" text-anchor="middle" font-weight="normal" fill="#111" stroke="#111" stroke-width="0.13" >8</text>
<line x1="649.2" y1="138.2" x2="649.2" y2="140.00" stroke="#3d3d3d" stroke-width="0.6"/>
<text x="649.20" y="149.60" font-size="8.3" text-anchor="middle" font-weight="normal" fill="#111" stroke="#111" stroke-width="0.13" >10</text>
<text x="602.6" y="163.5" text-anchor="middle" font-size="10" fill="#111" stroke="#111" stroke-width="0.15">d<tspan font-size="7.5" dy="2.5">397,400</tspan><tspan dy="-2.5">(Å)</tspan></text>
<rect x="648.2" y="7.3" width="7.7" height="7.1" fill="rgba(255,192,203,0.58)" stroke="rgba(85,70,82,0.62)" stroke-width="0.5"/>
<rect x="648.2" y="14.40" width="7.7" height="7.1" fill="rgba(100,149,237,0.50)" stroke="rgba(65,70,95,0.62)" stroke-width="0.5"/>
<text x="657.20" y="13.34" font-size="8.10" text-anchor="start" font-weight="normal" fill="#111" stroke="#111" stroke-width="0.13" textLength="9.41" lengthAdjust="spacingAndGlyphs">Ox</text>
<text x="657.20" y="20.78" font-size="8.10" text-anchor="start" font-weight="normal" fill="#111" stroke="#111" stroke-width="0.13" textLength="13.50" lengthAdjust="spacingAndGlyphs">Red</text>
</g>
<g id="panel5">
<clipPath id="c4"><rect x="38.4" y="182.2" width="133.20" height="138.90"/></clipPath>
<g clip-path="url(#c4)">
<path d="M43.70,314.80 C43.85,314.17 44.22,312.55 44.60,311.00 C44.98,309.45 45.40,307.87 46.00,305.50 C46.60,303.13 47.63,298.80 48.20,296.80 C48.77,294.80 49.02,294.33 49.40,293.50 C49.78,292.67 50.03,292.58 50.50,291.80 C50.97,291.02 51.63,289.85 52.20,288.80 C52.77,287.75 53.05,287.57 53.90,285.50 C54.75,283.43 56.17,279.78 57.30,276.40 C58.43,273.02 59.65,268.68 60.70,265.20 C61.75,261.72 62.73,258.53 63.60,255.50 C64.47,252.47 65.20,250.00 65.90,247.00 C66.60,244.00 67.08,242.08 67.80,237.50 C68.52,232.92 69.35,225.17 70.20,219.50 C71.05,213.83 72.10,207.88 72.90,203.50 C73.70,199.12 74.48,195.50 75.00,193.20 C75.52,190.90 75.70,190.52 76.00,189.70 C76.30,188.88 76.27,188.42 76.80,188.30 C77.33,188.18 78.42,188.78 79.15,189.00 C79.89,189.22 80.61,188.86 81.23,189.62 C81.85,190.38 82.40,191.35 82.89,193.56 C83.37,195.77 83.72,198.57 84.13,202.90 C84.55,207.22 85.00,214.31 85.38,219.49 C85.76,224.68 86.10,229.52 86.41,234.02 C86.73,238.51 86.83,243.11 87.24,246.46 C87.66,249.82 88.28,252.18 88.90,254.15 C89.53,256.12 90.29,257.43 90.98,258.30 C91.67,259.16 92.36,258.99 93.05,259.34 C93.75,259.68 94.44,259.92 95.13,260.37 C95.82,260.82 96.51,262.10 97.20,262.03 C97.89,261.96 98.59,260.41 99.28,259.96 C99.97,259.51 100.66,258.75 101.35,259.34 C102.04,259.92 102.74,261.58 103.43,263.49 C104.12,265.39 104.81,268.50 105.50,270.75 C106.19,272.99 106.71,274.55 107.58,276.97 C108.44,279.39 109.65,282.33 110.69,285.27 C111.73,288.21 112.76,291.49 113.80,294.61 C114.84,297.72 116.05,301.35 116.91,303.94 C117.78,306.54 118.30,308.61 118.99,310.17 C119.68,311.72 120.20,312.48 121.06,313.28 C121.93,314.07 123.66,314.66 124.17,314.94 L124.17,314.90 L43.70,314.90 Z" fill="rgba(255,192,203,0.58)" stroke="none"/>
<path d="M43.70,314.80 C43.85,314.17 44.22,312.55 44.60,311.00 C44.98,309.45 45.40,307.87 46.00,305.50 C46.60,303.13 47.63,298.80 48.20,296.80 C48.77,294.80 49.02,294.33 49.40,293.50 C49.78,292.67 50.03,292.58 50.50,291.80 C50.97,291.02 51.63,289.85 52.20,288.80 C52.77,287.75 53.05,287.57 53.90,285.50 C54.75,283.43 56.17,279.78 57.30,276.40 C58.43,273.02 59.65,268.68 60.70,265.20 C61.75,261.72 62.73,258.53 63.60,255.50 C64.47,252.47 65.20,250.00 65.90,247.00 C66.60,244.00 67.08,242.08 67.80,237.50 C68.52,232.92 69.35,225.17 70.20,219.50 C71.05,213.83 72.10,207.88 72.90,203.50 C73.70,199.12 74.48,195.50 75.00,193.20 C75.52,190.90 75.70,190.52 76.00,189.70 C76.30,188.88 76.27,188.42 76.80,188.30 C77.33,188.18 78.42,188.78 79.15,189.00 C79.89,189.22 80.61,188.86 81.23,189.62 C81.85,190.38 82.40,191.35 82.89,193.56 C83.37,195.77 83.72,198.57 84.13,202.90 C84.55,207.22 85.00,214.31 85.38,219.49 C85.76,224.68 86.10,229.52 86.41,234.02 C86.73,238.51 86.83,243.11 87.24,246.46 C87.66,249.82 88.28,252.18 88.90,254.15 C89.53,256.12 90.29,257.43 90.98,258.30 C91.67,259.16 92.36,258.99 93.05,259.34 C93.75,259.68 94.44,259.92 95.13,260.37 C95.82,260.82 96.51,262.10 97.20,262.03 C97.89,261.96 98.59,260.41 99.28,259.96 C99.97,259.51 100.66,258.75 101.35,259.34 C102.04,259.92 102.74,261.58 103.43,263.49 C104.12,265.39 104.81,268.50 105.50,270.75 C106.19,272.99 106.71,274.55 107.58,276.97 C108.44,279.39 109.65,282.33 110.69,285.27 C111.73,288.21 112.76,291.49 113.80,294.61 C114.84,297.72 116.05,301.35 116.91,303.94 C117.78,306.54 118.30,308.61 118.99,310.17 C119.68,311.72 120.20,312.48 121.06,313.28 C121.93,314.07 123.66,314.66 124.17,314.94 L124.17,314.90 L43.70,314.90 Z" fill="none" stroke="rgba(85,70,82,0.62)" stroke-width="0.6" stroke-linejoin="round"/>
<path d="M73.34,314.94 C73.86,314.49 75.59,313.38 76.46,312.24 C77.32,311.10 77.94,310.17 78.53,308.09 C79.12,306.02 79.46,303.25 79.98,299.79 C80.50,296.33 81.09,291.84 81.64,287.34 C82.20,282.85 82.78,277.32 83.30,272.82 C83.82,268.33 84.17,265.80 84.76,260.37 C85.34,254.94 86.31,245.67 86.83,240.24 C87.35,234.81 87.52,231.94 87.87,227.79 C88.21,223.64 88.49,219.15 88.90,215.34 C89.32,211.54 89.84,207.74 90.36,204.97 C90.88,202.20 91.39,200.06 92.02,198.75 C92.64,197.43 93.33,196.91 94.09,197.09 C94.85,197.26 95.72,198.12 96.58,199.78 C97.45,201.44 98.31,204.28 99.28,207.05 C100.25,209.81 101.35,213.44 102.39,216.38 C103.43,219.32 104.64,222.09 105.50,224.68 C106.37,227.27 106.89,229.35 107.58,231.94 C108.27,234.54 108.96,238.44 109.65,240.24 C110.34,242.04 111.03,242.38 111.73,242.73 C112.42,243.08 113.11,242.04 113.80,242.32 C114.49,242.59 115.18,242.94 115.88,244.39 C116.57,245.84 117.09,249.06 117.95,251.03 C118.81,253.00 120.02,253.63 121.06,256.22 C122.10,258.82 123.14,263.14 124.17,266.60 C125.21,270.06 126.42,274.27 127.29,276.97 C128.15,279.67 128.60,281.57 129.36,282.78 C130.12,283.99 131.16,283.47 131.85,284.23 C132.54,284.99 132.72,285.79 133.51,287.34 C134.31,288.90 135.59,291.67 136.62,293.57 C137.66,295.47 138.70,297.30 139.73,298.76 C140.77,300.21 141.81,301.35 142.85,302.28 C143.88,303.22 144.92,303.73 145.96,304.36 C147.00,304.98 148.03,305.71 149.07,306.02 C150.11,306.33 151.15,306.05 152.18,306.22 C153.22,306.40 154.48,306.72 155.29,307.05 C156.11,307.38 156.43,307.54 157.10,308.20 C157.77,308.86 158.45,310.13 159.30,311.00 C160.15,311.87 161.18,312.77 162.20,313.40 C163.22,314.03 164.87,314.57 165.40,314.80 L165.40,314.90 L73.34,314.90 Z" fill="rgba(100,149,237,0.50)" stroke="none"/>
<path d="M73.34,314.94 C73.86,314.49 75.59,313.38 76.46,312.24 C77.32,311.10 77.94,310.17 78.53,308.09 C79.12,306.02 79.46,303.25 79.98,299.79 C80.50,296.33 81.09,291.84 81.64,287.34 C82.20,282.85 82.78,277.32 83.30,272.82 C83.82,268.33 84.17,265.80 84.76,260.37 C85.34,254.94 86.31,245.67 86.83,240.24 C87.35,234.81 87.52,231.94 87.87,227.79 C88.21,223.64 88.49,219.15 88.90,215.34 C89.32,211.54 89.84,207.74 90.36,204.97 C90.88,202.20 91.39,200.06 92.02,198.75 C92.64,197.43 93.33,196.91 94.09,197.09 C94.85,197.26 95.72,198.12 96.58,199.78 C97.45,201.44 98.31,204.28 99.28,207.05 C100.25,209.81 101.35,213.44 102.39,216.38 C103.43,219.32 104.64,222.09 105.50,224.68 C106.37,227.27 106.89,229.35 107.58,231.94 C108.27,234.54 108.96,238.44 109.65,240.24 C110.34,242.04 111.03,242.38 111.73,242.73 C112.42,243.08 113.11,242.04 113.80,242.32 C114.49,242.59 115.18,242.94 115.88,244.39 C116.57,245.84 117.09,249.06 117.95,251.03 C118.81,253.00 120.02,253.63 121.06,256.22 C122.10,258.82 123.14,263.14 124.17,266.60 C125.21,270.06 126.42,274.27 127.29,276.97 C128.15,279.67 128.60,281.57 129.36,282.78 C130.12,283.99 131.16,283.47 131.85,284.23 C132.54,284.99 132.72,285.79 133.51,287.34 C134.31,288.90 135.59,291.67 136.62,293.57 C137.66,295.47 138.70,297.30 139.73,298.76 C140.77,300.21 141.81,301.35 142.85,302.28 C143.88,303.22 144.92,303.73 145.96,304.36 C147.00,304.98 148.03,305.71 149.07,306.02 C150.11,306.33 151.15,306.05 152.18,306.22 C153.22,306.40 154.48,306.72 155.29,307.05 C156.11,307.38 156.43,307.54 157.10,308.20 C157.77,308.86 158.45,310.13 159.30,311.00 C160.15,311.87 161.18,312.77 162.20,313.40 C163.22,314.03 164.87,314.57 165.40,314.80 L165.40,314.90 L73.34,314.90 Z" fill="none" stroke="rgba(65,70,95,0.62)" stroke-width="0.6" stroke-linejoin="round"/>
<line x1="86.3" y1="182.2" x2="86.3" y2="321.1" stroke="#d0202a" stroke-width="0.9" opacity="0.5"/>
</g>
<text transform="translate(86.90,182.70) rotate(-88)" text-anchor="end" font-size="9.6" font-weight="bold" fill="#e60012">79.8%</text>
<rect x="38.4" y="182.2" width="133.20" height="138.90" fill="none" stroke="#3d3d3d" stroke-width="1"/>
<line x1="36.60" y1="314.9" x2="38.4" y2="314.9" stroke="#3d3d3d" stroke-width="0.6"/>
<text x="30.90" y="318.10" font-size="8.5" text-anchor="end" font-weight="normal" fill="#111" stroke="#111" stroke-width="0.13" >0.00</text>
<line x1="36.60" y1="273.6" x2="38.4" y2="273.6" stroke="#3d3d3d" stroke-width="0.6"/>
<text x="30.90" y="276.80" font-size="8.5" text-anchor="end" font-weight="normal" fill="#111" stroke="#111" stroke-width="0.13" >0.02</text>
<line x1="36.60" y1="232.2" x2="38.4" y2="232.2" stroke="#3d3d3d" stroke-width="0.6"/>
<text x="30.90" y="235.40" font-size="8.5" text-anchor="end" font-weight="normal" fill="#111" stroke="#111" stroke-width="0.13" >0.04</text>
<line x1="36.60" y1="190.9" x2="38.4" y2="190.9" stroke="#3d3d3d" stroke-width="0.6"/>
<text x="30.90" y="194.10" font-size="8.5" text-anchor="end" font-weight="normal" fill="#111" stroke="#111" stroke-width="0.13" >0.06</text>
<line x1="39.5" y1="321.1" x2="39.5" y2="322.90" stroke="#3d3d3d" stroke-width="0.6"/>
<text x="39.50" y="332.40" font-size="8.3" text-anchor="middle" font-weight="normal" fill="#111" stroke="#111" stroke-width="0.13" >60</text>
<line x1="81.0" y1="321.1" x2="81.0" y2="322.90" stroke="#3d3d3d" stroke-width="0.6"/>
<text x="81.00" y="332.40" font-size="8.3" text-anchor="middle" font-weight="normal" fill="#111" stroke="#111" stroke-width="0.13" >80</text>
<line x1="122.5" y1="321.1" x2="122.5" y2="322.90" stroke="#3d3d3d" stroke-width="0.6"/>
<text x="122.50" y="332.40" font-size="8.3" text-anchor="middle" font-weight="normal" fill="#111" stroke="#111" stroke-width="0.13" >100</text>
<line x1="164.0" y1="321.1" x2="164.0" y2="322.90" stroke="#3d3d3d" stroke-width="0.6"/>
<text x="164.00" y="332.40" font-size="8.3" text-anchor="middle" font-weight="normal" fill="#111" stroke="#111" stroke-width="0.13" >120</text>
<text x="104.5" y="342.6" text-anchor="middle" font-size="10" fill="#111" stroke="#111" stroke-width="0.15">θ<tspan font-size="7.5" dy="2.5">abb'</tspan><tspan dy="-2.5">(°)</tspan></text>
<rect x="147.3" y="187.6" width="7.7" height="7.5" fill="rgba(255,192,203,0.58)" stroke="rgba(85,70,82,0.62)" stroke-width="0.5"/>
<rect x="147.3" y="195.10" width="7.7" height="7.5" fill="rgba(100,149,237,0.50)" stroke="rgba(65,70,95,0.62)" stroke-width="0.5"/>
<text x="155.80" y="193.99" font-size="7.92" text-anchor="start" font-weight="normal" fill="#111" stroke="#111" stroke-width="0.13" textLength="9.20" lengthAdjust="spacingAndGlyphs">Ox</text>
<text x="155.80" y="201.84" font-size="7.92" text-anchor="start" font-weight="normal" fill="#111" stroke="#111" stroke-width="0.13" textLength="13.20" lengthAdjust="spacingAndGlyphs">Red</text>
</g>
<g id="panel6">
<clipPath id="c5"><rect x="208.6" y="183.7" width="130.80" height="136.60"/></clipPath>
<g clip-path="url(#c5)">
<path d="M214.30,313.90 C214.47,312.93 214.82,310.96 215.34,308.09 C215.85,305.22 216.72,299.27 217.41,296.68 C218.10,294.09 218.79,292.53 219.49,292.53 C220.18,292.53 220.87,295.30 221.56,296.68 C222.25,298.06 222.94,300.48 223.63,300.83 C224.33,301.18 225.02,300.66 225.71,298.76 C226.40,296.85 227.09,292.70 227.78,289.42 C228.48,286.13 229.17,281.98 229.86,279.05 C230.55,276.11 231.14,273.69 231.93,271.78 C232.73,269.88 233.77,268.50 234.63,267.63 C235.50,266.77 236.36,266.25 237.12,266.60 C237.88,266.94 238.57,268.33 239.20,269.71 C239.82,271.09 240.34,274.72 240.85,274.90 C241.37,275.07 241.89,273.17 242.31,270.75 C242.72,268.33 242.89,265.11 243.34,260.37 C243.79,255.63 244.55,248.09 245.00,242.32 C245.45,236.54 245.70,231.25 246.04,225.72 C246.39,220.19 246.73,214.13 247.08,209.12 C247.42,204.11 247.70,199.02 248.12,195.63 C248.53,192.25 249.05,188.79 249.57,188.79 C250.09,188.79 250.61,192.25 251.23,195.63 C251.85,199.02 252.61,204.45 253.30,209.12 C253.99,213.79 254.69,218.80 255.38,223.64 C256.07,228.48 256.83,234.02 257.45,238.17 C258.07,242.32 258.35,244.49 259.11,248.54 C259.87,252.59 261.19,258.75 262.02,262.45 C262.85,266.15 263.40,268.85 264.09,270.75 C264.78,272.65 265.47,273.51 266.17,273.86 C266.86,274.20 267.55,272.30 268.24,272.82 C268.93,273.34 269.62,275.24 270.32,276.97 C271.01,278.70 271.70,281.81 272.39,283.20 C273.08,284.58 273.84,285.62 274.46,285.27 C275.09,284.92 275.61,282.68 276.12,281.12 C276.64,279.56 276.99,277.32 277.58,275.93 C278.16,274.55 279.05,273.21 279.65,272.82 C280.26,272.43 280.73,273.00 281.20,273.60 C281.67,274.20 281.93,275.18 282.50,276.40 C283.07,277.62 284.02,279.38 284.60,280.90 C285.18,282.42 285.60,283.97 286.00,285.50 C286.40,287.03 286.53,288.57 287.00,290.10 C287.47,291.63 288.03,293.32 288.80,294.70 C289.57,296.08 290.68,297.17 291.60,298.40 C292.52,299.63 293.38,300.87 294.30,302.10 C295.22,303.33 296.02,304.57 297.10,305.80 C298.18,307.03 299.42,308.42 300.80,309.50 C302.18,310.58 303.70,311.58 305.40,312.30 C307.10,313.02 310.07,313.55 311.00,313.80 L311.00,314.30 L214.30,314.30 Z" fill="rgba(255,192,203,0.58)" stroke="none"/>
<path d="M214.30,313.90 C214.47,312.93 214.82,310.96 215.34,308.09 C215.85,305.22 216.72,299.27 217.41,296.68 C218.10,294.09 218.79,292.53 219.49,292.53 C220.18,292.53 220.87,295.30 221.56,296.68 C222.25,298.06 222.94,300.48 223.63,300.83 C224.33,301.18 225.02,300.66 225.71,298.76 C226.40,296.85 227.09,292.70 227.78,289.42 C228.48,286.13 229.17,281.98 229.86,279.05 C230.55,276.11 231.14,273.69 231.93,271.78 C232.73,269.88 233.77,268.50 234.63,267.63 C235.50,266.77 236.36,266.25 237.12,266.60 C237.88,266.94 238.57,268.33 239.20,269.71 C239.82,271.09 240.34,274.72 240.85,274.90 C241.37,275.07 241.89,273.17 242.31,270.75 C242.72,268.33 242.89,265.11 243.34,260.37 C243.79,255.63 244.55,248.09 245.00,242.32 C245.45,236.54 245.70,231.25 246.04,225.72 C246.39,220.19 246.73,214.13 247.08,209.12 C247.42,204.11 247.70,199.02 248.12,195.63 C248.53,192.25 249.05,188.79 249.57,188.79 C250.09,188.79 250.61,192.25 251.23,195.63 C251.85,199.02 252.61,204.45 253.30,209.12 C253.99,213.79 254.69,218.80 255.38,223.64 C256.07,228.48 256.83,234.02 257.45,238.17 C258.07,242.32 258.35,244.49 259.11,248.54 C259.87,252.59 261.19,258.75 262.02,262.45 C262.85,266.15 263.40,268.85 264.09,270.75 C264.78,272.65 265.47,273.51 266.17,273.86 C266.86,274.20 267.55,272.30 268.24,272.82 C268.93,273.34 269.62,275.24 270.32,276.97 C271.01,278.70 271.70,281.81 272.39,283.20 C273.08,284.58 273.84,285.62 274.46,285.27 C275.09,284.92 275.61,282.68 276.12,281.12 C276.64,279.56 276.99,277.32 277.58,275.93 C278.16,274.55 279.05,273.21 279.65,272.82 C280.26,272.43 280.73,273.00 281.20,273.60 C281.67,274.20 281.93,275.18 282.50,276.40 C283.07,277.62 284.02,279.38 284.60,280.90 C285.18,282.42 285.60,283.97 286.00,285.50 C286.40,287.03 286.53,288.57 287.00,290.10 C287.47,291.63 288.03,293.32 288.80,294.70 C289.57,296.08 290.68,297.17 291.60,298.40 C292.52,299.63 293.38,300.87 294.30,302.10 C295.22,303.33 296.02,304.57 297.10,305.80 C298.18,307.03 299.42,308.42 300.80,309.50 C302.18,310.58 303.70,311.58 305.40,312.30 C307.10,313.02 310.07,313.55 311.00,313.80 L311.00,314.30 L214.30,314.30 Z" fill="none" stroke="rgba(85,70,82,0.62)" stroke-width="0.6" stroke-linejoin="round"/>
<path d="M218.45,313.90 C219.14,313.28 221.39,311.48 222.60,310.17 C223.81,308.85 224.85,307.75 225.71,306.02 C226.57,304.29 227.09,302.21 227.78,299.79 C228.48,297.37 229.17,293.74 229.86,291.49 C230.55,289.25 231.35,287.28 231.93,286.31 C232.52,285.34 232.87,285.34 233.39,285.68 C233.90,286.03 234.42,287.41 235.05,288.38 C235.67,289.35 236.43,291.32 237.12,291.49 C237.81,291.67 238.57,290.80 239.20,289.42 C239.82,288.04 240.34,285.96 240.85,283.20 C241.37,280.43 241.82,276.97 242.31,272.82 C242.79,268.67 243.24,262.35 243.76,258.30 C244.28,254.25 244.97,251.89 245.42,248.54 C245.87,245.18 246.11,241.28 246.46,238.17 C246.80,235.05 247.08,231.87 247.49,229.87 C247.91,227.86 248.43,226.13 248.95,226.13 C249.46,226.13 249.98,227.86 250.61,229.87 C251.23,231.87 251.82,235.40 252.68,238.17 C253.54,240.93 254.76,244.39 255.79,246.46 C256.83,248.54 258.04,249.92 258.90,250.61 C259.77,251.31 260.29,250.89 260.98,250.61 C261.67,250.34 262.36,249.72 263.05,248.95 C263.75,248.19 264.51,246.64 265.13,246.05 C265.75,245.46 266.20,245.36 266.79,245.43 C267.38,245.50 268.07,245.77 268.66,246.46 C269.24,247.16 269.84,248.57 270.32,249.58 C270.79,250.58 271.17,251.35 271.50,252.50 C271.83,253.65 271.97,254.23 272.30,256.50 C272.63,258.77 273.08,262.52 273.50,266.10 C273.92,269.68 274.40,274.85 274.80,278.00 C275.20,281.15 275.42,283.17 275.90,285.00 C276.38,286.83 276.93,287.87 277.70,289.00 C278.47,290.13 279.45,290.82 280.50,291.80 C281.55,292.78 283.15,294.60 284.00,294.90 C284.85,295.20 285.10,294.33 285.60,293.60 C286.10,292.87 286.52,291.33 287.00,290.50 C287.48,289.67 287.98,288.97 288.50,288.60 C289.02,288.23 289.63,288.13 290.10,288.30 C290.57,288.47 290.90,288.98 291.30,289.60 C291.70,290.22 291.83,290.53 292.50,292.00 C293.17,293.47 294.38,296.62 295.30,298.40 C296.22,300.18 297.08,301.55 298.00,302.70 C298.92,303.85 299.71,305.27 300.80,305.30 C301.89,305.33 303.58,304.00 304.55,302.90 C305.52,301.81 305.93,300.03 306.62,298.76 C307.31,297.48 308.01,295.99 308.70,295.23 C309.39,294.47 310.08,293.95 310.77,294.19 C311.46,294.43 312.15,295.92 312.85,296.68 C313.54,297.44 314.23,298.76 314.92,298.76 C315.61,298.76 316.30,297.72 317.00,296.68 C317.69,295.64 318.38,293.67 319.07,292.53 C319.76,291.39 320.45,290.35 321.15,289.83 C321.84,289.32 322.49,289.14 323.22,289.42 C323.95,289.70 324.74,290.28 325.50,291.49 C326.26,292.70 327.02,294.61 327.78,296.68 C328.54,298.76 329.34,301.69 330.07,303.94 C330.79,306.19 331.45,308.58 332.14,310.17 C332.83,311.76 333.87,312.93 334.22,313.49 L334.22,314.30 L218.45,314.30 Z" fill="rgba(100,149,237,0.50)" stroke="none"/>
<path d="M218.45,313.90 C219.14,313.28 221.39,311.48 222.60,310.17 C223.81,308.85 224.85,307.75 225.71,306.02 C226.57,304.29 227.09,302.21 227.78,299.79 C228.48,297.37 229.17,293.74 229.86,291.49 C230.55,289.25 231.35,287.28 231.93,286.31 C232.52,285.34 232.87,285.34 233.39,285.68 C233.90,286.03 234.42,287.41 235.05,288.38 C235.67,289.35 236.43,291.32 237.12,291.49 C237.81,291.67 238.57,290.80 239.20,289.42 C239.82,288.04 240.34,285.96 240.85,283.20 C241.37,280.43 241.82,276.97 242.31,272.82 C242.79,268.67 243.24,262.35 243.76,258.30 C244.28,254.25 244.97,251.89 245.42,248.54 C245.87,245.18 246.11,241.28 246.46,238.17 C246.80,235.05 247.08,231.87 247.49,229.87 C247.91,227.86 248.43,226.13 248.95,226.13 C249.46,226.13 249.98,227.86 250.61,229.87 C251.23,231.87 251.82,235.40 252.68,238.17 C253.54,240.93 254.76,244.39 255.79,246.46 C256.83,248.54 258.04,249.92 258.90,250.61 C259.77,251.31 260.29,250.89 260.98,250.61 C261.67,250.34 262.36,249.72 263.05,248.95 C263.75,248.19 264.51,246.64 265.13,246.05 C265.75,245.46 266.20,245.36 266.79,245.43 C267.38,245.50 268.07,245.77 268.66,246.46 C269.24,247.16 269.84,248.57 270.32,249.58 C270.79,250.58 271.17,251.35 271.50,252.50 C271.83,253.65 271.97,254.23 272.30,256.50 C272.63,258.77 273.08,262.52 273.50,266.10 C273.92,269.68 274.40,274.85 274.80,278.00 C275.20,281.15 275.42,283.17 275.90,285.00 C276.38,286.83 276.93,287.87 277.70,289.00 C278.47,290.13 279.45,290.82 280.50,291.80 C281.55,292.78 283.15,294.60 284.00,294.90 C284.85,295.20 285.10,294.33 285.60,293.60 C286.10,292.87 286.52,291.33 287.00,290.50 C287.48,289.67 287.98,288.97 288.50,288.60 C289.02,288.23 289.63,288.13 290.10,288.30 C290.57,288.47 290.90,288.98 291.30,289.60 C291.70,290.22 291.83,290.53 292.50,292.00 C293.17,293.47 294.38,296.62 295.30,298.40 C296.22,300.18 297.08,301.55 298.00,302.70 C298.92,303.85 299.71,305.27 300.80,305.30 C301.89,305.33 303.58,304.00 304.55,302.90 C305.52,301.81 305.93,300.03 306.62,298.76 C307.31,297.48 308.01,295.99 308.70,295.23 C309.39,294.47 310.08,293.95 310.77,294.19 C311.46,294.43 312.15,295.92 312.85,296.68 C313.54,297.44 314.23,298.76 314.92,298.76 C315.61,298.76 316.30,297.72 317.00,296.68 C317.69,295.64 318.38,293.67 319.07,292.53 C319.76,291.39 320.45,290.35 321.15,289.83 C321.84,289.32 322.49,289.14 323.22,289.42 C323.95,289.70 324.74,290.28 325.50,291.49 C326.26,292.70 327.02,294.61 327.78,296.68 C328.54,298.76 329.34,301.69 330.07,303.94 C330.79,306.19 331.45,308.58 332.14,310.17 C332.83,311.76 333.87,312.93 334.22,313.49 L334.22,314.30 L218.45,314.30 Z" fill="none" stroke="rgba(65,70,95,0.62)" stroke-width="0.6" stroke-linejoin="round"/>
<line x1="259.9" y1="183.7" x2="259.9" y2="320.3" stroke="#d0202a" stroke-width="0.9" opacity="0.5"/>
</g>
<text transform="translate(260.40,184.00) rotate(-88)" text-anchor="end" font-size="9.5" font-weight="bold" fill="#e60012">60.4%</text>
<rect x="208.6" y="183.7" width="130.80" height="136.60" fill="none" stroke="#3d3d3d" stroke-width="1"/>
<line x1="206.80" y1="314.3" x2="208.6" y2="314.3" stroke="#3d3d3d" stroke-width="0.6"/>
<text x="201.50" y="317.50" font-size="8.6" text-anchor="end" font-weight="normal" fill="#111" stroke="#111" stroke-width="0.13" >0.000</text>
<line x1="206.80" y1="281.9" x2="208.6" y2="281.9" stroke="#3d3d3d" stroke-width="0.6"/>
<text x="201.50" y="285.10" font-size="8.6" text-anchor="end" font-weight="normal" fill="#111" stroke="#111" stroke-width="0.13" >0.025</text>
<line x1="206.80" y1="249.5" x2="208.6" y2="249.5" stroke="#3d3d3d" stroke-width="0.6"/>
<text x="201.50" y="252.70" font-size="8.6" text-anchor="end" font-weight="normal" fill="#111" stroke="#111" stroke-width="0.13" >0.050</text>
<line x1="206.80" y1="217.1" x2="208.6" y2="217.1" stroke="#3d3d3d" stroke-width="0.6"/>
<text x="201.50" y="220.30" font-size="8.6" text-anchor="end" font-weight="normal" fill="#111" stroke="#111" stroke-width="0.13" >0.075</text>
<line x1="206.80" y1="184.7" x2="208.6" y2="184.7" stroke="#3d3d3d" stroke-width="0.6"/>
<text x="201.50" y="187.90" font-size="8.6" text-anchor="end" font-weight="normal" fill="#111" stroke="#111" stroke-width="0.13" >0.100</text>
<line x1="225.7" y1="320.3" x2="225.7" y2="322.10" stroke="#3d3d3d" stroke-width="0.6"/>
<text x="225.70" y="331.50" font-size="8.3" text-anchor="middle" font-weight="normal" fill="#111" stroke="#111" stroke-width="0.13" >40</text>
<line x1="254.1" y1="320.3" x2="254.1" y2="322.10" stroke="#3d3d3d" stroke-width="0.6"/>
<text x="254.10" y="331.50" font-size="8.3" text-anchor="middle" font-weight="normal" fill="#111" stroke="#111" stroke-width="0.13" >50</text>
<line x1="282.4" y1="320.3" x2="282.4" y2="322.10" stroke="#3d3d3d" stroke-width="0.6"/>
<text x="282.40" y="331.50" font-size="8.3" text-anchor="middle" font-weight="normal" fill="#111" stroke="#111" stroke-width="0.13" >60</text>
<line x1="310.7" y1="320.3" x2="310.7" y2="322.10" stroke="#3d3d3d" stroke-width="0.6"/>
<text x="310.70" y="331.50" font-size="8.3" text-anchor="middle" font-weight="normal" fill="#111" stroke="#111" stroke-width="0.13" >70</text>
<line x1="338.6" y1="320.3" x2="338.6" y2="322.10" stroke="#3d3d3d" stroke-width="0.6"/>
<text x="338.60" y="331.50" font-size="8.3" text-anchor="middle" font-weight="normal" fill="#111" stroke="#111" stroke-width="0.13" >80</text>
<text x="274.6" y="345.8" text-anchor="middle" font-size="10" fill="#111" stroke="#111" stroke-width="0.15">R<tspan font-size="7.5" dy="2.5">aa'</tspan><tspan dy="-2.5">(Å)</tspan></text>
<rect x="315.4" y="188.7" width="7.7" height="7.4" fill="rgba(255,192,203,0.58)" stroke="rgba(85,70,82,0.62)" stroke-width="0.5"/>
<rect x="315.4" y="196.10" width="7.7" height="7.4" fill="rgba(100,149,237,0.50)" stroke="rgba(65,70,95,0.62)" stroke-width="0.5"/>
<text x="324.40" y="195.00" font-size="8.04" text-anchor="start" font-weight="normal" fill="#111" stroke="#111" stroke-width="0.13" textLength="9.34" lengthAdjust="spacingAndGlyphs">Ox</text>
<text x="324.40" y="202.75" font-size="8.04" text-anchor="start" font-weight="normal" fill="#111" stroke="#111" stroke-width="0.13" textLength="13.40" lengthAdjust="spacingAndGlyphs">Red</text>
</g>
<g id="panel7">
<clipPath id="c6"><rect x="370.5" y="184.5" width="130.60" height="135.90"/></clipPath>
<g clip-path="url(#c6)">
<path d="M376.34,314.73 C377.03,314.32 379.28,313.52 380.49,312.24 C381.70,310.96 382.56,309.47 383.60,307.05 C384.63,304.63 385.74,301.35 386.71,297.72 C387.68,294.09 388.54,289.76 389.41,285.27 C390.27,280.77 391.14,275.24 391.90,270.75 C392.66,266.25 393.28,262.00 393.97,258.30 C394.66,254.60 395.35,251.89 396.05,248.54 C396.74,245.18 397.26,241.62 398.12,238.17 C398.98,234.71 400.44,230.11 401.23,227.79 C402.03,225.48 402.37,225.03 402.89,224.27 C403.41,223.50 403.83,223.23 404.34,223.23 C404.86,223.23 405.49,223.68 406.00,224.27 C406.52,224.85 406.70,224.96 407.46,226.76 C408.22,228.55 409.63,232.11 410.57,235.05 C411.50,237.99 412.30,241.38 413.06,244.39 C413.82,247.40 414.58,250.45 415.13,253.11 C415.69,255.78 415.93,257.43 416.38,260.37 C416.83,263.31 417.24,266.42 417.83,270.75 C418.42,275.07 419.21,282.09 419.90,286.31 C420.60,290.53 421.18,293.19 421.98,296.06 C422.77,298.93 423.81,301.63 424.68,303.53 C425.54,305.43 426.20,306.47 427.17,307.47 C428.13,308.47 429.38,309.06 430.49,309.54 C431.59,310.03 432.73,310.24 433.80,310.37 C434.88,310.51 435.88,310.55 436.92,310.37 C437.95,310.20 439.03,309.92 440.03,309.34 C441.03,308.75 442.10,308.09 442.93,306.85 C443.76,305.60 444.42,303.67 445.01,301.87 C445.60,300.07 446.01,298.31 446.46,296.06 C446.91,293.81 447.33,290.87 447.71,288.38 C448.09,285.89 448.40,283.44 448.74,281.12 C449.09,278.80 449.43,276.59 449.78,274.48 C450.13,272.37 450.47,270.54 450.82,268.46 C451.16,266.39 451.49,264.16 451.85,262.03 C452.22,259.91 452.44,258.47 453.00,255.71 C453.55,252.94 454.64,248.35 455.17,245.43 C455.71,242.50 455.69,241.45 456.21,238.17 C456.73,234.88 457.59,229.35 458.29,225.72 C458.98,222.09 459.81,218.53 460.36,216.38 C460.91,214.24 461.19,213.65 461.61,212.85 C462.02,212.06 462.44,211.61 462.85,211.61 C463.27,211.61 463.65,212.06 464.10,212.85 C464.54,213.65 464.96,214.24 465.55,216.38 C466.14,218.53 466.93,222.09 467.62,225.72 C468.31,229.35 469.14,234.54 469.70,238.17 C470.25,241.80 470.42,244.15 470.94,247.50 C471.46,250.86 472.15,254.42 472.81,258.30 C473.47,262.17 474.19,266.60 474.88,270.75 C475.58,274.90 476.27,279.39 476.96,283.20 C477.65,287.00 478.34,290.46 479.03,293.57 C479.72,296.68 480.24,299.45 481.11,301.87 C481.97,304.29 483.18,306.43 484.22,308.09 C485.26,309.75 486.12,310.86 487.33,311.83 C488.54,312.79 490.10,313.42 491.48,313.90 C492.86,314.38 494.94,314.59 495.63,314.73 L495.63,314.70 L376.34,314.70 Z" fill="rgba(255,192,203,0.58)" stroke="none"/>
<path d="M376.34,314.73 C377.03,314.32 379.28,313.52 380.49,312.24 C381.70,310.96 382.56,309.47 383.60,307.05 C384.63,304.63 385.74,301.35 386.71,297.72 C387.68,294.09 388.54,289.76 389.41,285.27 C390.27,280.77 391.14,275.24 391.90,270.75 C392.66,266.25 393.28,262.00 393.97,258.30 C394.66,254.60 395.35,251.89 396.05,248.54 C396.74,245.18 397.26,241.62 398.12,238.17 C398.98,234.71 400.44,230.11 401.23,227.79 C402.03,225.48 402.37,225.03 402.89,224.27 C403.41,223.50 403.83,223.23 404.34,223.23 C404.86,223.23 405.49,223.68 406.00,224.27 C406.52,224.85 406.70,224.96 407.46,226.76 C408.22,228.55 409.63,232.11 410.57,235.05 C411.50,237.99 412.30,241.38 413.06,244.39 C413.82,247.40 414.58,250.45 415.13,253.11 C415.69,255.78 415.93,257.43 416.38,260.37 C416.83,263.31 417.24,266.42 417.83,270.75 C418.42,275.07 419.21,282.09 419.90,286.31 C420.60,290.53 421.18,293.19 421.98,296.06 C422.77,298.93 423.81,301.63 424.68,303.53 C425.54,305.43 426.20,306.47 427.17,307.47 C428.13,308.47 429.38,309.06 430.49,309.54 C431.59,310.03 432.73,310.24 433.80,310.37 C434.88,310.51 435.88,310.55 436.92,310.37 C437.95,310.20 439.03,309.92 440.03,309.34 C441.03,308.75 442.10,308.09 442.93,306.85 C443.76,305.60 444.42,303.67 445.01,301.87 C445.60,300.07 446.01,298.31 446.46,296.06 C446.91,293.81 447.33,290.87 447.71,288.38 C448.09,285.89 448.40,283.44 448.74,281.12 C449.09,278.80 449.43,276.59 449.78,274.48 C450.13,272.37 450.47,270.54 450.82,268.46 C451.16,266.39 451.49,264.16 451.85,262.03 C452.22,259.91 452.44,258.47 453.00,255.71 C453.55,252.94 454.64,248.35 455.17,245.43 C455.71,242.50 455.69,241.45 456.21,238.17 C456.73,234.88 457.59,229.35 458.29,225.72 C458.98,222.09 459.81,218.53 460.36,216.38 C460.91,214.24 461.19,213.65 461.61,212.85 C462.02,212.06 462.44,211.61 462.85,211.61 C463.27,211.61 463.65,212.06 464.10,212.85 C464.54,213.65 464.96,214.24 465.55,216.38 C466.14,218.53 466.93,222.09 467.62,225.72 C468.31,229.35 469.14,234.54 469.70,238.17 C470.25,241.80 470.42,244.15 470.94,247.50 C471.46,250.86 472.15,254.42 472.81,258.30 C473.47,262.17 474.19,266.60 474.88,270.75 C475.58,274.90 476.27,279.39 476.96,283.20 C477.65,287.00 478.34,290.46 479.03,293.57 C479.72,296.68 480.24,299.45 481.11,301.87 C481.97,304.29 483.18,306.43 484.22,308.09 C485.26,309.75 486.12,310.86 487.33,311.83 C488.54,312.79 490.10,313.42 491.48,313.90 C492.86,314.38 494.94,314.59 495.63,314.73 L495.63,314.70 L376.34,314.70 Z" fill="none" stroke="rgba(85,70,82,0.62)" stroke-width="0.6" stroke-linejoin="round"/>
<path d="M382.56,314.73 C383.42,313.97 386.19,311.96 387.75,310.17 C389.30,308.37 390.69,306.19 391.90,303.94 C393.11,301.69 394.04,298.58 395.01,296.68 C395.98,294.78 396.84,293.46 397.71,292.53 C398.57,291.60 399.26,291.32 400.20,291.08 C401.13,290.84 402.34,291.18 403.31,291.08 C404.28,290.98 405.14,291.42 406.00,290.46 C406.87,289.49 407.73,287.86 408.49,285.27 C409.25,282.68 409.88,278.70 410.57,274.90 C411.26,271.09 411.95,266.76 412.64,262.45 C413.33,258.13 414.21,252.41 414.70,249.00 C415.19,245.59 415.08,245.42 415.60,242.00 C416.12,238.58 416.93,233.37 417.80,228.50 C418.67,223.63 419.80,217.18 420.80,212.80 C421.80,208.42 422.75,205.33 423.80,202.20 C424.85,199.07 426.32,195.80 427.10,194.00 C427.88,192.20 428.07,192.00 428.50,191.40 C428.93,190.80 429.30,190.40 429.70,190.40 C430.10,190.40 430.47,190.80 430.90,191.40 C431.33,192.00 431.68,192.25 432.30,194.00 C432.92,195.75 433.83,198.93 434.60,201.90 C435.37,204.87 436.08,207.83 436.90,211.80 C437.72,215.77 438.57,221.05 439.50,225.70 C440.43,230.35 441.58,235.90 442.50,239.70 C443.42,243.50 444.44,246.44 445.00,248.50 C445.56,250.56 445.35,250.44 445.84,252.07 C446.32,253.71 447.22,256.05 447.91,258.30 C448.60,260.55 449.30,263.66 449.99,265.56 C450.68,267.46 451.20,268.50 452.06,269.71 C452.93,270.92 454.14,271.27 455.17,272.82 C456.21,274.38 457.42,276.97 458.29,279.05 C459.15,281.12 459.67,283.20 460.36,285.27 C461.05,287.34 461.74,289.59 462.44,291.49 C463.13,293.40 463.65,294.95 464.51,296.68 C465.37,298.41 466.59,300.38 467.62,301.87 C468.66,303.35 469.70,304.63 470.73,305.60 C471.77,306.57 472.98,307.19 473.85,307.68 C474.71,308.16 475.23,308.02 475.92,308.51 C476.61,308.99 477.13,309.85 478.00,310.58 C478.86,311.31 479.90,312.24 481.11,312.86 C482.32,313.49 483.87,314.00 485.26,314.32 C486.64,314.63 488.72,314.66 489.41,314.73 L489.41,314.70 L382.56,314.70 Z" fill="rgba(100,149,237,0.50)" stroke="none"/>
<path d="M382.56,314.73 C383.42,313.97 386.19,311.96 387.75,310.17 C389.30,308.37 390.69,306.19 391.90,303.94 C393.11,301.69 394.04,298.58 395.01,296.68 C395.98,294.78 396.84,293.46 397.71,292.53 C398.57,291.60 399.26,291.32 400.20,291.08 C401.13,290.84 402.34,291.18 403.31,291.08 C404.28,290.98 405.14,291.42 406.00,290.46 C406.87,289.49 407.73,287.86 408.49,285.27 C409.25,282.68 409.88,278.70 410.57,274.90 C411.26,271.09 411.95,266.76 412.64,262.45 C413.33,258.13 414.21,252.41 414.70,249.00 C415.19,245.59 415.08,245.42 415.60,242.00 C416.12,238.58 416.93,233.37 417.80,228.50 C418.67,223.63 419.80,217.18 420.80,212.80 C421.80,208.42 422.75,205.33 423.80,202.20 C424.85,199.07 426.32,195.80 427.10,194.00 C427.88,192.20 428.07,192.00 428.50,191.40 C428.93,190.80 429.30,190.40 429.70,190.40 C430.10,190.40 430.47,190.80 430.90,191.40 C431.33,192.00 431.68,192.25 432.30,194.00 C432.92,195.75 433.83,198.93 434.60,201.90 C435.37,204.87 436.08,207.83 436.90,211.80 C437.72,215.77 438.57,221.05 439.50,225.70 C440.43,230.35 441.58,235.90 442.50,239.70 C443.42,243.50 444.44,246.44 445.00,248.50 C445.56,250.56 445.35,250.44 445.84,252.07 C446.32,253.71 447.22,256.05 447.91,258.30 C448.60,260.55 449.30,263.66 449.99,265.56 C450.68,267.46 451.20,268.50 452.06,269.71 C452.93,270.92 454.14,271.27 455.17,272.82 C456.21,274.38 457.42,276.97 458.29,279.05 C459.15,281.12 459.67,283.20 460.36,285.27 C461.05,287.34 461.74,289.59 462.44,291.49 C463.13,293.40 463.65,294.95 464.51,296.68 C465.37,298.41 466.59,300.38 467.62,301.87 C468.66,303.35 469.70,304.63 470.73,305.60 C471.77,306.57 472.98,307.19 473.85,307.68 C474.71,308.16 475.23,308.02 475.92,308.51 C476.61,308.99 477.13,309.85 478.00,310.58 C478.86,311.31 479.90,312.24 481.11,312.86 C482.32,313.49 483.87,314.00 485.26,314.32 C486.64,314.63 488.72,314.66 489.41,314.73 L489.41,314.70 L382.56,314.70 Z" fill="none" stroke="rgba(65,70,95,0.62)" stroke-width="0.6" stroke-linejoin="round"/>
<line x1="452.0" y1="184.5" x2="452.0" y2="320.4" stroke="#d0202a" stroke-width="0.9" opacity="0.5"/>
</g>
<text transform="translate(452.60,184.50) rotate(-88)" text-anchor="end" font-size="9.8" font-weight="bold" fill="#e60012">66.6%</text>
<rect x="370.5" y="184.5" width="130.60" height="135.90" fill="none" stroke="#3d3d3d" stroke-width="1"/>
<line x1="368.70" y1="314.7" x2="370.5" y2="314.7" stroke="#3d3d3d" stroke-width="0.6"/>
<text x="363.40" y="317.90" font-size="8.0" text-anchor="end" font-weight="normal" fill="#111" stroke="#111" stroke-width="0.13" >0.0</text>
<line x1="368.70" y1="283.7" x2="370.5" y2="283.7" stroke="#3d3d3d" stroke-width="0.6"/>
<text x="363.40" y="286.90" font-size="8.0" text-anchor="end" font-weight="normal" fill="#111" stroke="#111" stroke-width="0.13" >0.1</text>
<line x1="368.70" y1="252.8" x2="370.5" y2="252.8" stroke="#3d3d3d" stroke-width="0.6"/>
<text x="363.40" y="256.00" font-size="8.0" text-anchor="end" font-weight="normal" fill="#111" stroke="#111" stroke-width="0.13" >0.2</text>
<line x1="368.70" y1="221.8" x2="370.5" y2="221.8" stroke="#3d3d3d" stroke-width="0.6"/>
<text x="363.40" y="225.00" font-size="8.0" text-anchor="end" font-weight="normal" fill="#111" stroke="#111" stroke-width="0.13" >0.3</text>
<line x1="368.70" y1="190.9" x2="370.5" y2="190.9" stroke="#3d3d3d" stroke-width="0.6"/>
<text x="363.40" y="194.10" font-size="8.0" text-anchor="end" font-weight="normal" fill="#111" stroke="#111" stroke-width="0.13" >0.4</text>
<line x1="389.4" y1="320.4" x2="389.4" y2="322.20" stroke="#3d3d3d" stroke-width="0.6"/>
<text x="389.40" y="331.90" font-size="8.3" text-anchor="middle" font-weight="normal" fill="#111" stroke="#111" stroke-width="0.13" >28</text>
<line x1="419.5" y1="320.4" x2="419.5" y2="322.20" stroke="#3d3d3d" stroke-width="0.6"/>
<text x="419.50" y="331.90" font-size="8.3" text-anchor="middle" font-weight="normal" fill="#111" stroke="#111" stroke-width="0.13" >30</text>
<line x1="449.6" y1="320.4" x2="449.6" y2="322.20" stroke="#3d3d3d" stroke-width="0.6"/>
<text x="449.60" y="331.90" font-size="8.3" text-anchor="middle" font-weight="normal" fill="#111" stroke="#111" stroke-width="0.13" >32</text>
<line x1="479.7" y1="320.4" x2="479.7" y2="322.20" stroke="#3d3d3d" stroke-width="0.6"/>
<text x="479.70" y="331.90" font-size="8.3" text-anchor="middle" font-weight="normal" fill="#111" stroke="#111" stroke-width="0.13" >34</text>
<text x="436.2" y="346.0" text-anchor="middle" font-size="10" fill="#111" stroke="#111" stroke-width="0.15">R<tspan font-size="7.5" dy="2.5">bb'</tspan><tspan dy="-2.5">(Å)</tspan></text>
<rect x="477.8" y="189.5" width="7.7" height="7.5" fill="rgba(255,192,203,0.58)" stroke="rgba(85,70,82,0.62)" stroke-width="0.5"/>
<rect x="477.8" y="197.00" width="7.7" height="7.5" fill="rgba(100,149,237,0.50)" stroke="rgba(65,70,95,0.62)" stroke-width="0.5"/>
<text x="485.80" y="195.89" font-size="7.56" text-anchor="start" font-weight="normal" fill="#111" stroke="#111" stroke-width="0.13" textLength="8.78" lengthAdjust="spacingAndGlyphs">Ox</text>
<text x="485.80" y="203.74" font-size="7.56" text-anchor="start" font-weight="normal" fill="#111" stroke="#111" stroke-width="0.13" textLength="12.60" lengthAdjust="spacingAndGlyphs">Red</text>
</g>
<g id="panel8">
<clipPath id="c7"><rect x="533.2" y="185.6" width="140.30" height="135.70"/></clipPath>
<g clip-path="url(#c7)">
<path d="M539.06,315.54 C539.71,315.08 541.76,314.11 542.95,312.74 C544.13,311.37 545.11,309.86 546.18,307.34 C547.26,304.83 548.34,300.51 549.42,297.63 C550.50,294.76 551.58,291.81 552.66,290.08 C553.74,288.35 555.00,287.27 555.90,287.27 C556.79,287.27 557.33,288.53 558.05,290.08 C558.77,291.63 559.49,294.40 560.21,296.55 C560.93,298.71 561.65,301.23 562.37,303.03 C563.09,304.83 563.81,306.34 564.53,307.34 C565.25,308.35 565.97,308.89 566.69,309.07 C567.40,309.25 568.12,309.61 568.84,308.42 C569.56,307.24 570.28,305.19 571.00,301.95 C571.72,298.71 572.44,293.68 573.16,289.00 C573.88,284.33 574.60,278.57 575.32,273.90 C576.04,269.22 576.76,264.90 577.48,260.95 C578.19,256.99 578.91,252.83 579.63,250.16 C580.35,247.48 581.07,247.57 581.79,244.90 C582.51,242.22 583.23,237.70 583.95,234.11 C584.67,230.51 585.39,226.37 586.11,223.32 C586.83,220.26 587.65,217.60 588.26,215.76 C588.88,213.93 589.34,213.03 589.78,212.31 C590.21,211.59 590.46,211.41 590.85,211.45 C591.25,211.48 591.68,211.81 592.15,212.53 C592.62,213.25 593.05,213.61 593.66,215.76 C594.27,217.92 595.10,221.70 595.82,225.48 C596.54,229.25 597.26,234.11 597.98,238.42 C598.70,242.74 599.41,247.26 600.13,251.37 C600.85,255.48 601.68,259.35 602.29,263.11 C602.90,266.86 603.26,270.30 603.80,273.90 C604.34,277.49 604.95,281.45 605.53,284.69 C606.10,287.92 606.61,290.44 607.26,293.32 C607.90,296.19 608.62,299.43 609.41,301.95 C610.20,304.47 611.03,306.80 612.00,308.42 C612.97,310.04 613.98,310.76 615.24,311.66 C616.50,312.56 617.94,313.24 619.56,313.82 C621.17,314.39 622.61,314.82 624.95,315.11 C627.29,315.40 632.14,315.47 633.58,315.54 L633.58,315.80 L539.06,315.80 Z" fill="rgba(255,192,203,0.58)" stroke="none"/>
<path d="M539.06,315.54 C539.71,315.08 541.76,314.11 542.95,312.74 C544.13,311.37 545.11,309.86 546.18,307.34 C547.26,304.83 548.34,300.51 549.42,297.63 C550.50,294.76 551.58,291.81 552.66,290.08 C553.74,288.35 555.00,287.27 555.90,287.27 C556.79,287.27 557.33,288.53 558.05,290.08 C558.77,291.63 559.49,294.40 560.21,296.55 C560.93,298.71 561.65,301.23 562.37,303.03 C563.09,304.83 563.81,306.34 564.53,307.34 C565.25,308.35 565.97,308.89 566.69,309.07 C567.40,309.25 568.12,309.61 568.84,308.42 C569.56,307.24 570.28,305.19 571.00,301.95 C571.72,298.71 572.44,293.68 573.16,289.00 C573.88,284.33 574.60,278.57 575.32,273.90 C576.04,269.22 576.76,264.90 577.48,260.95 C578.19,256.99 578.91,252.83 579.63,250.16 C580.35,247.48 581.07,247.57 581.79,244.90 C582.51,242.22 583.23,237.70 583.95,234.11 C584.67,230.51 585.39,226.37 586.11,223.32 C586.83,220.26 587.65,217.60 588.26,215.76 C588.88,213.93 589.34,213.03 589.78,212.31 C590.21,211.59 590.46,211.41 590.85,211.45 C591.25,211.48 591.68,211.81 592.15,212.53 C592.62,213.25 593.05,213.61 593.66,215.76 C594.27,217.92 595.10,221.70 595.82,225.48 C596.54,229.25 597.26,234.11 597.98,238.42 C598.70,242.74 599.41,247.26 600.13,251.37 C600.85,255.48 601.68,259.35 602.29,263.11 C602.90,266.86 603.26,270.30 603.80,273.90 C604.34,277.49 604.95,281.45 605.53,284.69 C606.10,287.92 606.61,290.44 607.26,293.32 C607.90,296.19 608.62,299.43 609.41,301.95 C610.20,304.47 611.03,306.80 612.00,308.42 C612.97,310.04 613.98,310.76 615.24,311.66 C616.50,312.56 617.94,313.24 619.56,313.82 C621.17,314.39 622.61,314.82 624.95,315.11 C627.29,315.40 632.14,315.47 633.58,315.54 L633.58,315.80 L539.06,315.80 Z" fill="none" stroke="rgba(85,70,82,0.62)" stroke-width="0.6" stroke-linejoin="round"/>
<path d="M558.49,315.54 C558.88,315.08 560.10,313.93 560.86,312.74 C561.61,311.55 562.37,310.58 563.02,308.42 C563.66,306.26 564.20,303.39 564.74,299.79 C565.28,296.19 565.75,291.52 566.25,286.84 C566.76,282.17 567.30,276.41 567.76,271.74 C568.23,267.06 568.59,263.26 569.06,258.79 C569.53,254.32 570.10,250.09 570.57,244.90 C571.04,239.70 571.38,233.39 571.86,227.63 C572.35,221.88 572.96,215.76 573.48,210.37 C574.00,204.97 574.51,198.43 574.99,195.26 C575.48,192.10 575.80,191.92 576.40,191.38 C576.99,190.84 577.83,191.20 578.55,192.03 C579.27,192.85 579.99,193.65 580.71,196.34 C581.43,199.04 582.26,204.08 582.87,208.21 C583.48,212.35 583.91,216.84 584.38,221.16 C584.85,225.48 585.28,229.79 585.68,234.11 C586.07,238.42 586.25,242.58 586.75,247.05 C587.26,251.53 588.09,257.19 588.70,260.95 C589.31,264.70 589.78,266.70 590.42,269.58 C591.07,272.46 591.86,275.69 592.58,278.21 C593.30,280.73 593.84,282.35 594.74,284.69 C595.64,287.02 596.90,290.15 597.98,292.24 C599.05,294.32 600.11,295.97 601.21,297.20 C602.32,298.43 603.35,298.68 604.60,299.60 C605.85,300.52 607.33,301.70 608.70,302.70 C610.07,303.70 611.43,304.62 612.80,305.60 C614.17,306.58 615.53,307.67 616.90,308.60 C618.27,309.53 619.63,310.43 621.00,311.20 C622.37,311.97 623.73,312.67 625.10,313.20 C626.47,313.73 627.33,314.08 629.20,314.40 C631.07,314.72 632.83,314.92 636.30,315.10 C639.77,315.28 644.88,315.40 650.00,315.50 C655.12,315.60 664.17,315.67 667.00,315.70 L667.00,315.80 L558.49,315.80 Z" fill="rgba(100,149,237,0.50)" stroke="none"/>
<path d="M558.49,315.54 C558.88,315.08 560.10,313.93 560.86,312.74 C561.61,311.55 562.37,310.58 563.02,308.42 C563.66,306.26 564.20,303.39 564.74,299.79 C565.28,296.19 565.75,291.52 566.25,286.84 C566.76,282.17 567.30,276.41 567.76,271.74 C568.23,267.06 568.59,263.26 569.06,258.79 C569.53,254.32 570.10,250.09 570.57,244.90 C571.04,239.70 571.38,233.39 571.86,227.63 C572.35,221.88 572.96,215.76 573.48,210.37 C574.00,204.97 574.51,198.43 574.99,195.26 C575.48,192.10 575.80,191.92 576.40,191.38 C576.99,190.84 577.83,191.20 578.55,192.03 C579.27,192.85 579.99,193.65 580.71,196.34 C581.43,199.04 582.26,204.08 582.87,208.21 C583.48,212.35 583.91,216.84 584.38,221.16 C584.85,225.48 585.28,229.79 585.68,234.11 C586.07,238.42 586.25,242.58 586.75,247.05 C587.26,251.53 588.09,257.19 588.70,260.95 C589.31,264.70 589.78,266.70 590.42,269.58 C591.07,272.46 591.86,275.69 592.58,278.21 C593.30,280.73 593.84,282.35 594.74,284.69 C595.64,287.02 596.90,290.15 597.98,292.24 C599.05,294.32 600.11,295.97 601.21,297.20 C602.32,298.43 603.35,298.68 604.60,299.60 C605.85,300.52 607.33,301.70 608.70,302.70 C610.07,303.70 611.43,304.62 612.80,305.60 C614.17,306.58 615.53,307.67 616.90,308.60 C618.27,309.53 619.63,310.43 621.00,311.20 C622.37,311.97 623.73,312.67 625.10,313.20 C626.47,313.73 627.33,314.08 629.20,314.40 C631.07,314.72 632.83,314.92 636.30,315.10 C639.77,315.28 644.88,315.40 650.00,315.50 C655.12,315.60 664.17,315.67 667.00,315.70 L667.00,315.80 L558.49,315.80 Z" fill="none" stroke="rgba(65,70,95,0.62)" stroke-width="0.6" stroke-linejoin="round"/>
<line x1="584.4" y1="185.6" x2="584.4" y2="321.3" stroke="#d0202a" stroke-width="0.9" opacity="0.5"/>
</g>
<text transform="translate(584.60,185.90) rotate(-88)" text-anchor="end" font-size="9.1" font-weight="bold" fill="#e60012">62.3%</text>
<rect x="533.2" y="185.6" width="140.30" height="135.70" fill="none" stroke="#3d3d3d" stroke-width="1"/>
<line x1="531.40" y1="316.1" x2="533.2" y2="316.1" stroke="#3d3d3d" stroke-width="0.6"/>
<text x="525.80" y="319.30" font-size="8.4" text-anchor="end" font-weight="normal" fill="#111" stroke="#111" stroke-width="0.13" >0.0</text>
<line x1="531.40" y1="274.2" x2="533.2" y2="274.2" stroke="#3d3d3d" stroke-width="0.6"/>
<text x="525.80" y="277.40" font-size="8.4" text-anchor="end" font-weight="normal" fill="#111" stroke="#111" stroke-width="0.13" >0.5</text>
<line x1="531.40" y1="232.4" x2="533.2" y2="232.4" stroke="#3d3d3d" stroke-width="0.6"/>
<text x="525.80" y="235.60" font-size="8.4" text-anchor="end" font-weight="normal" fill="#111" stroke="#111" stroke-width="0.13" >1.0</text>
<line x1="531.40" y1="190.5" x2="533.2" y2="190.5" stroke="#3d3d3d" stroke-width="0.6"/>
<text x="525.80" y="193.70" font-size="8.4" text-anchor="end" font-weight="normal" fill="#111" stroke="#111" stroke-width="0.13" >1.5</text>
<line x1="561.9" y1="321.3" x2="561.9" y2="323.10" stroke="#3d3d3d" stroke-width="0.6"/>
<text x="561.90" y="333.00" font-size="8.3" text-anchor="middle" font-weight="normal" fill="#111" stroke="#111" stroke-width="0.13" >5</text>
<line x1="596.5" y1="321.3" x2="596.5" y2="323.10" stroke="#3d3d3d" stroke-width="0.6"/>
<text x="596.50" y="333.00" font-size="8.3" text-anchor="middle" font-weight="normal" fill="#111" stroke="#111" stroke-width="0.13" >6</text>
<line x1="631.0" y1="321.3" x2="631.0" y2="323.10" stroke="#3d3d3d" stroke-width="0.6"/>
<text x="631.00" y="333.00" font-size="8.3" text-anchor="middle" font-weight="normal" fill="#111" stroke="#111" stroke-width="0.13" >7</text>
<line x1="666.4" y1="321.3" x2="666.4" y2="323.10" stroke="#3d3d3d" stroke-width="0.6"/>
<text x="666.40" y="333.00" font-size="8.3" text-anchor="middle" font-weight="normal" fill="#111" stroke="#111" stroke-width="0.13" >8</text>
<text x="603.2" y="347.4" text-anchor="middle" font-size="10" fill="#111" stroke="#111" stroke-width="0.15">d<tspan font-size="7.5" dy="2.5">53,56</tspan><tspan dy="-2.5">(Å)</tspan></text>
<rect x="648.2" y="190.6" width="7.7" height="7.45" fill="rgba(255,192,203,0.58)" stroke="rgba(85,70,82,0.62)" stroke-width="0.5"/>
<rect x="648.2" y="198.05" width="7.7" height="7.45" fill="rgba(100,149,237,0.50)" stroke="rgba(65,70,95,0.62)" stroke-width="0.5"/>
<text x="657.05" y="196.94" font-size="8.04" text-anchor="start" font-weight="normal" fill="#111" stroke="#111" stroke-width="0.13" textLength="9.34" lengthAdjust="spacingAndGlyphs">Ox</text>
<text x="657.05" y="204.74" font-size="8.04" text-anchor="start" font-weight="normal" fill="#111" stroke="#111" stroke-width="0.13" textLength="13.40" lengthAdjust="spacingAndGlyphs">Red</text>
</g>
<text transform="translate(8.8,71.0) rotate(-90)" text-anchor="middle" font-size="10" fill="#111" stroke="#111" stroke-width="0.18">Density</text>
<text transform="translate(8.8,252.0) rotate(-90)" text-anchor="middle" font-size="10" fill="#111" stroke="#111" stroke-width="0.18">Density</text>
</svg>
</body></html>
